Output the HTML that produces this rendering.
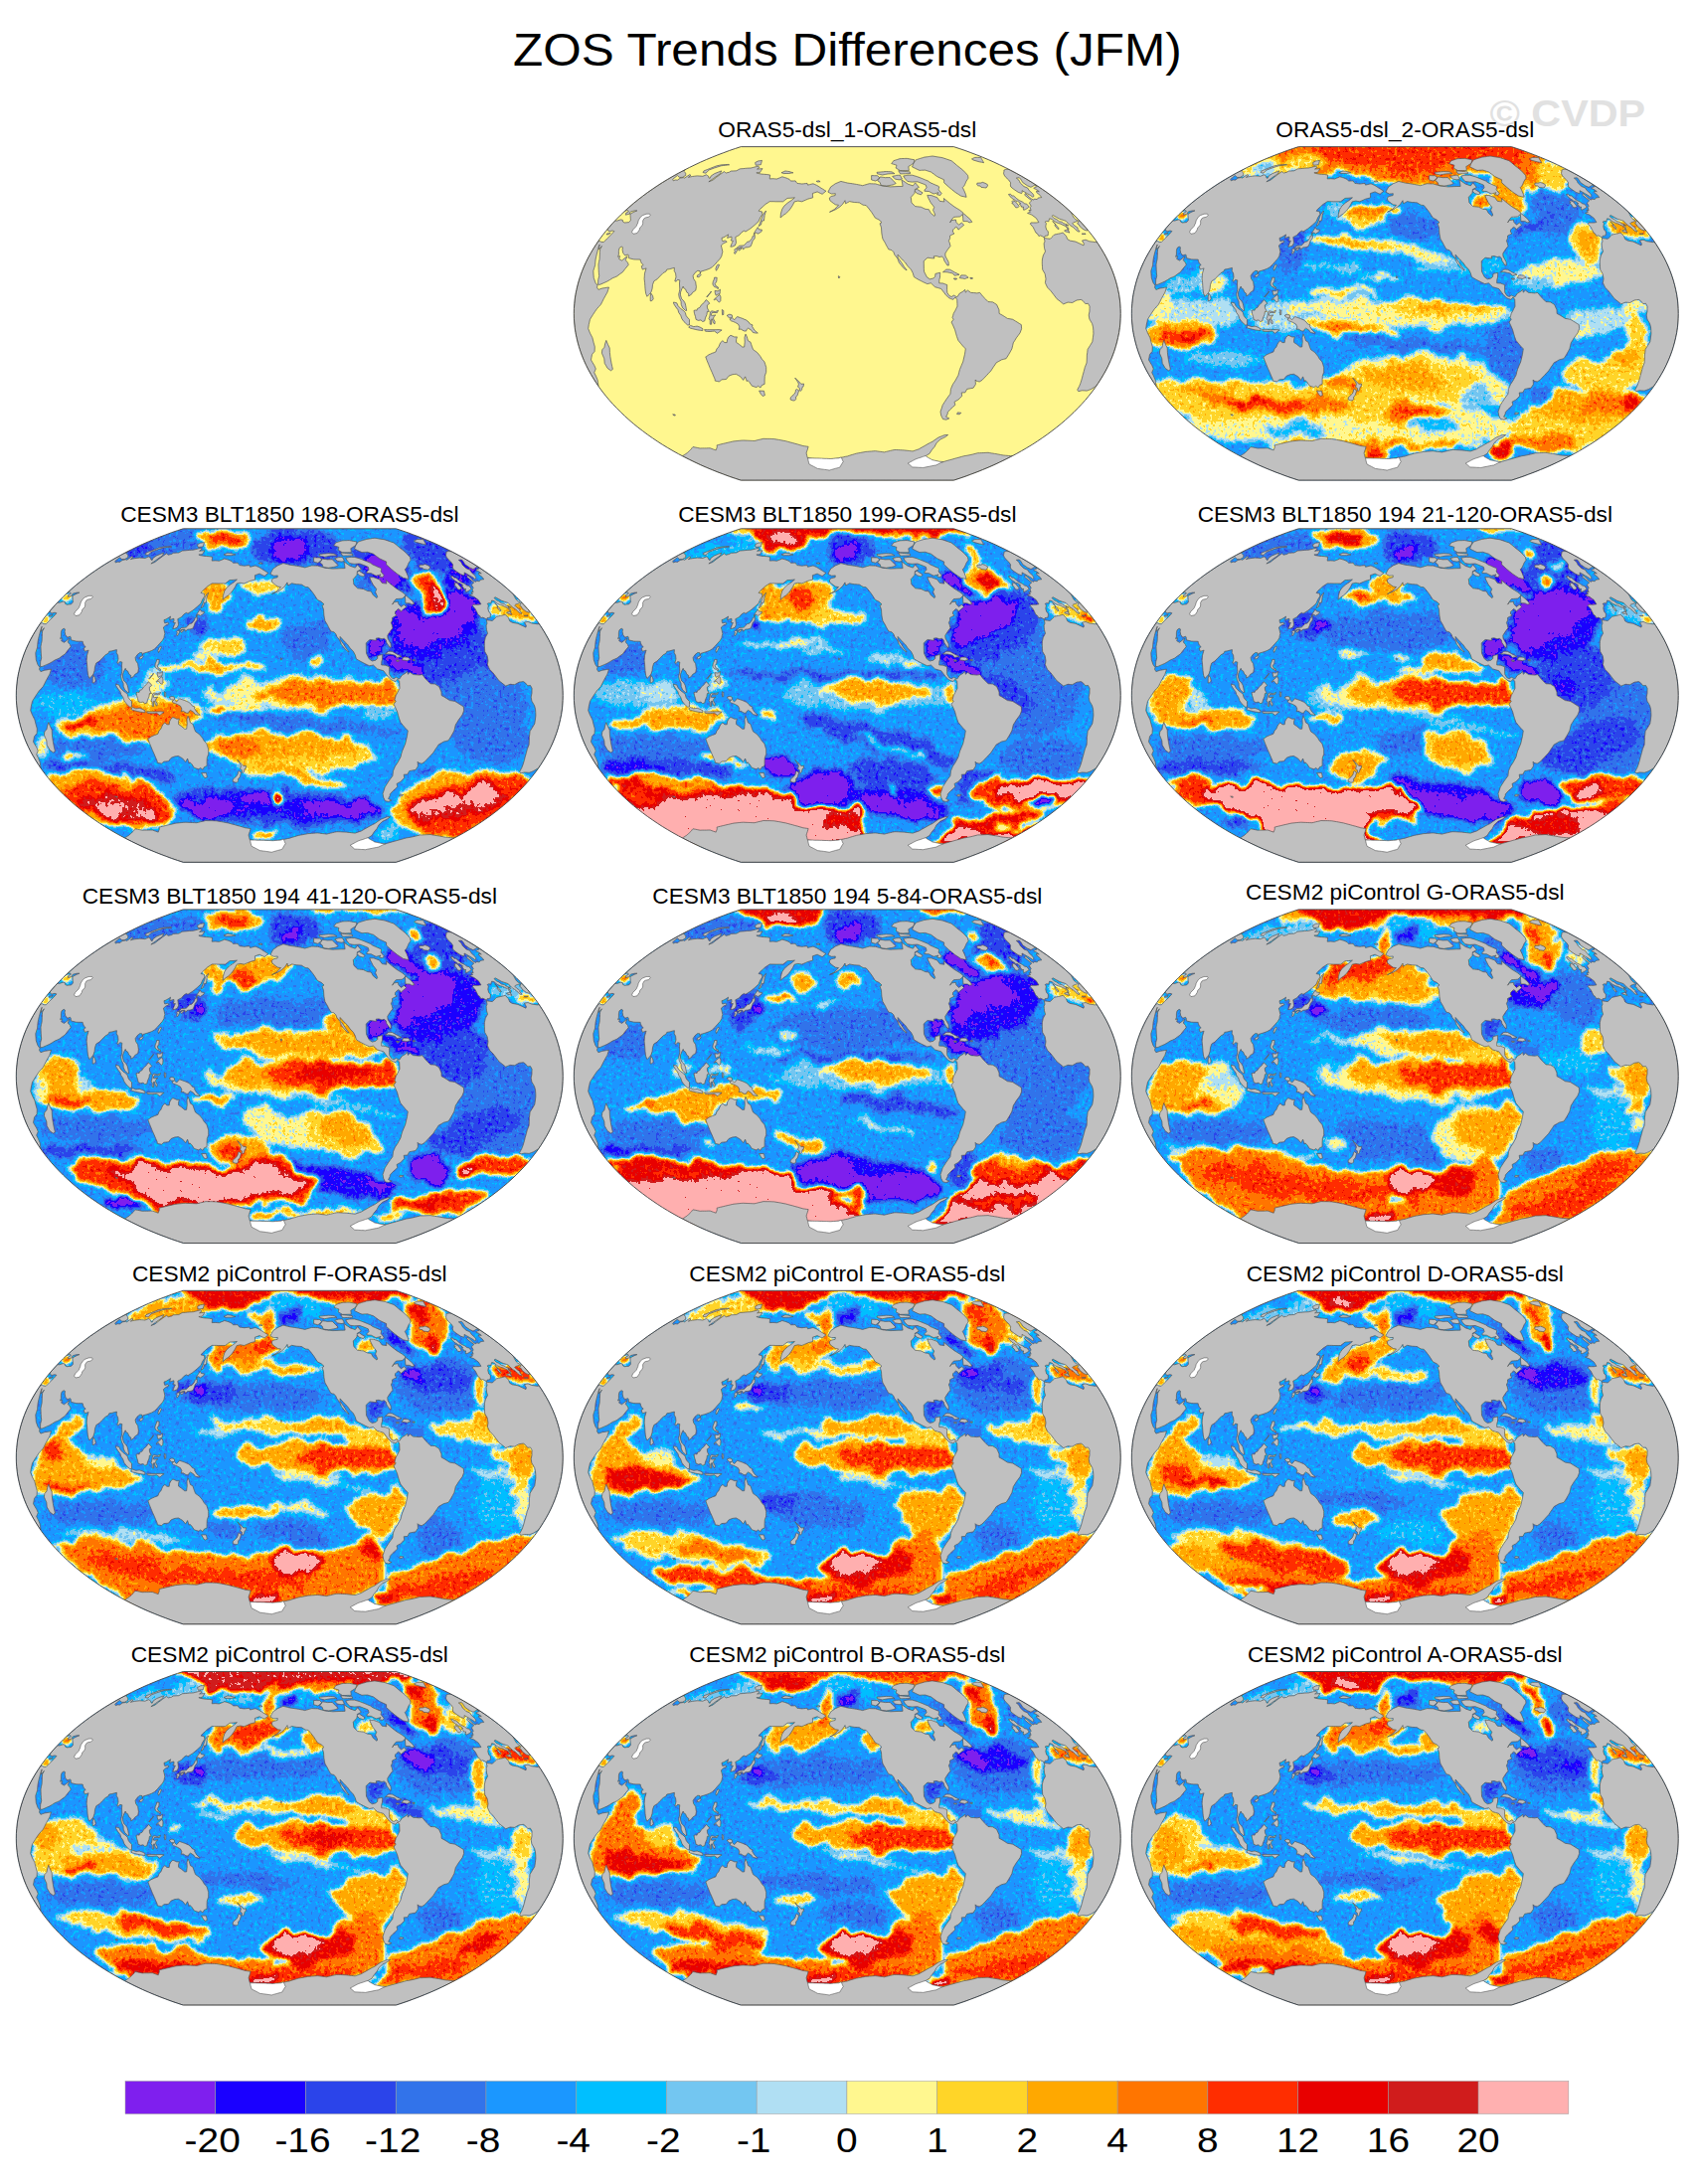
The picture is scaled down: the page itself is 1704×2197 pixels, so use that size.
<!DOCTYPE html>
<html lang="en"><head><meta charset="utf-8"><title>ZOS Trends Differences (JFM)</title>
<style>html,body{margin:0;padding:0;background:#fff}body{width:1704px;height:2197px;overflow:hidden}svg{display:block}text{font-family:'Liberation Sans', Arial, Helvetica, sans-serif;fill:#000}</style></head><body>
<svg width="1704" height="2197" viewBox="0 0 1704 2197">
<defs>
<clipPath id="oc"><path d="M382.0 335.6L387.8 333.7L393.7 331.7L399.5 329.5L405.4 327.3L411.1 325.0L416.9 322.6L422.6 320.1L428.3 317.4L433.9 314.7L439.4 311.9L444.9 309.0L450.3 306.0L455.6 302.9L460.9 299.7L466.0 296.4L471.0 293.0L475.9 289.6L480.7 286.0L485.4 282.4L490.0 278.7L494.4 274.9L498.7 271.0L502.8 267.1L506.8 263.1L510.7 259.0L514.4 254.9L517.9 250.7L521.3 246.4L524.5 242.1L527.5 237.7L530.3 233.3L533.0 228.8L535.5 224.3L537.8 219.7L539.9 215.1L541.8 210.5L543.5 205.8L545.0 201.1L546.3 196.4L547.4 191.7L548.4 186.9L549.1 182.2L549.6 177.4L549.9 172.6L550.0 167.8L549.9 163.0L549.6 158.2L549.1 153.4L548.4 148.7L547.4 143.9L546.3 139.2L545.0 134.5L543.5 129.8L541.8 125.1L539.9 120.5L537.8 115.9L535.5 111.3L533.0 106.8L530.3 102.3L527.5 97.9L524.5 93.5L521.3 89.2L517.9 84.9L514.4 80.7L510.7 76.6L506.8 72.5L502.8 68.5L498.7 64.6L494.4 60.7L490.0 56.9L485.4 53.2L480.7 49.6L475.9 46.0L471.0 42.6L466.0 39.2L460.9 35.9L455.6 32.7L450.3 29.6L444.9 26.6L439.4 23.7L433.9 20.9L428.3 18.2L422.6 15.5L416.9 13.0L411.1 10.6L405.4 8.3L399.5 6.1L393.7 3.9L387.8 1.9L382.0 0.0L168.0 0.0L162.2 1.9L156.3 3.9L150.5 6.1L144.6 8.3L138.9 10.6L133.1 13.0L127.4 15.5L121.7 18.2L116.1 20.9L110.6 23.7L105.1 26.6L99.7 29.6L94.4 32.7L89.1 35.9L84.0 39.2L79.0 42.6L74.1 46.0L69.3 49.6L64.6 53.2L60.0 56.9L55.6 60.7L51.3 64.6L47.2 68.5L43.2 72.5L39.3 76.6L35.6 80.7L32.1 84.9L28.7 89.2L25.5 93.5L22.5 97.9L19.7 102.3L17.0 106.8L14.5 111.3L12.2 115.9L10.1 120.5L8.2 125.1L6.5 129.8L5.0 134.5L3.7 139.2L2.6 143.9L1.6 148.7L0.9 153.4L0.4 158.2L0.1 163.0L0.0 167.8L0.1 172.6L0.4 177.4L0.9 182.2L1.6 186.9L2.6 191.7L3.7 196.4L5.0 201.1L6.5 205.8L8.2 210.5L10.1 215.1L12.2 219.7L14.5 224.3L17.0 228.8L19.7 233.3L22.5 237.7L25.5 242.1L28.7 246.4L32.1 250.7L35.6 254.9L39.3 259.0L43.2 263.1L47.2 267.1L51.3 271.0L55.6 274.9L60.0 278.7L64.6 282.4L69.3 286.0L74.1 289.6L79.0 293.0L84.0 296.4L89.1 299.7L94.4 302.9L99.7 306.0L105.1 309.0L110.6 311.9L116.1 314.7L121.7 317.4L127.4 320.1L133.1 322.6L138.9 325.0L144.6 327.3L150.5 329.5L156.3 331.7L162.2 333.7L168.0 335.6Z"/></clipPath>
<filter id="bl" filterUnits="userSpaceOnUse" x="-12" y="-12" width="574" height="359" color-interpolation-filters="sRGB"><feTurbulence type="fractalNoise" baseFrequency="0.05" numOctaves="3" seed="7" result="n"/><feDisplacementMap in="SourceGraphic" in2="n" scale="20" xChannelSelector="R" yChannelSelector="G" result="d"/><feGaussianBlur in="d" stdDeviation="2.2" result="b"/><feTurbulence type="fractalNoise" baseFrequency="0.28" numOctaves="2" seed="3" result="n2"/><feColorMatrix in="n2" type="matrix" values="1 0 0 0 0 1 0 0 0 0 1 0 0 0 0 0 0 0 0 1" result="n3"/><feComposite in="b" in2="n3" operator="arithmetic" k1="0" k2="1" k3="0.2" k4="-0.1" result="f"/><feComponentTransfer in="f"><feFuncR type="discrete" tableValues="0.498 0.102 0.169 0.196 0.106 0.000 0.451 0.690 1.000 1.000 1.000 1.000 1.000 0.910 0.816 1.000"/><feFuncG type="discrete" tableValues="0.122 0.000 0.267 0.451 0.592 0.749 0.776 0.875 0.969 0.835 0.659 0.459 0.176 0.000 0.110 0.690"/><feFuncB type="discrete" tableValues="0.933 1.000 0.918 0.918 1.000 1.000 0.945 0.953 0.561 0.157 0.000 0.000 0.000 0.000 0.110 0.690"/></feComponentTransfer></filter>
<g id="land"><path d="M102.0 270.4L100.7 270.4L99.4 269.3L101.7 269.4L102.0 270.4ZM30.9 217.8L30.5 213.2L29.3 210.4L28.1 207.6L28.5 204.2L30.7 201.7L31.3 198.3L32.5 194.8L34.1 198.7L35.9 202.5L36.1 207.0L36.5 210.8L37.1 214.5L37.8 218.3L38.4 221.0L39.1 223.8L37.2 225.2L33.8 222.8L32.4 220.3L30.9 217.8ZM141.3 185.5L139.0 185.7L136.8 185.9L134.5 185.8L132.2 185.6L131.3 184.0L134.0 184.1L136.6 184.1L139.7 184.1L142.7 184.1L145.7 184.0L148.8 184.4L145.9 186.4L144.5 187.8L141.3 185.5ZM124.5 184.3L122.5 183.9L120.6 183.4L118.9 183.0L117.2 182.6L115.4 181.5L117.3 179.8L120.4 181.0L122.1 180.8L123.9 180.5L126.8 181.5L129.7 183.1L129.5 185.0L127.0 184.7L124.5 184.3ZM139.3 169.8L140.9 169.6L142.5 169.4L140.6 171.1L140.3 173.3L141.9 176.0L141.6 178.4L140.0 177.0L139.1 173.3L138.0 173.7L138.2 176.2L138.4 178.6L136.9 178.6L136.9 174.7L135.7 173.1L136.6 170.4L136.9 168.3L137.2 166.2L138.7 165.2L140.4 165.6L142.1 166.0L145.2 164.7L144.1 167.0L141.6 166.9L139.0 166.8L137.8 169.4L139.3 169.8ZM113.9 171.4L116.2 173.8L116.2 176.6L116.2 179.4L114.2 179.3L112.4 177.6L110.6 175.9L108.6 173.1L107.4 169.6L105.4 166.8L104.7 164.1L102.5 161.3L100.4 158.0L100.2 156.4L101.8 156.8L103.5 157.2L104.8 160.1L107.8 163.3L109.6 164.4L112.0 166.8L112.8 169.8L113.9 171.4ZM19.5 124.9L19.7 128.5L20.0 132.0L21.7 136.8L23.7 139.6L23.2 141.5L24.6 143.8L26.6 143.1L28.6 142.4L30.8 142.1L33.0 141.7L35.2 141.4L34.4 143.9L33.6 146.5L31.7 149.8L29.9 153.1L28.5 155.9L27.1 158.7L25.0 161.0L23.0 163.2L21.0 166.1L19.1 169.0L16.2 173.6L15.6 176.3L15.0 178.9L14.4 182.9L16.2 187.5L18.6 192.1L19.7 196.6L21.0 201.2L20.8 205.9L19.4 207.5L18.2 209.1L17.7 211.8L17.2 214.4L18.8 217.2L20.5 220.0L22.0 223.4L21.2 225.3L20.4 227.2L22.1 230.5L23.8 234.6L24.2 237.2L24.6 239.8L24.6 240.8L21.7 236.5L19.0 232.1L16.4 227.8L14.0 223.3L11.8 218.9L9.8 214.4L8.0 209.8L6.3 205.3L4.8 200.7L3.6 196.0L2.5 191.4L1.6 186.8L0.9 182.1L0.4 177.4L0.1 172.7L0.0 168.0L0.1 163.4L0.4 158.7L0.9 154.0L1.5 149.3L2.4 144.7L3.5 140.0L4.7 135.4L6.2 130.8L7.8 126.2L9.6 121.7L11.6 117.2L13.8 112.7L16.2 108.3L18.7 103.9L21.4 99.6L24.3 95.3L26.0 94.8L27.5 95.8L30.0 95.9L33.4 92.4L37.6 88.3L40.6 85.0L38.7 84.4L35.3 85.3L34.2 83.4L33.2 83.6L35.8 80.5L38.6 77.4L41.4 74.3L43.3 74.5L47.1 73.3L49.0 73.7L49.2 75.4L50.9 76.4L53.1 76.2L55.3 76.0L57.1 74.0L56.9 71.6L56.8 70.2L56.7 68.8L56.9 67.4L60.8 65.4L63.6 64.3L61.3 64.3L59.4 64.7L57.5 65.2L56.0 66.3L56.6 67.4L54.7 67.9L52.0 68.6L52.5 66.5L55.0 65.4L54.4 64.1L53.0 64.0L50.3 65.5L54.1 62.0L58.0 58.6L62.1 55.2L66.2 51.9L70.4 48.7L74.8 45.5L79.2 42.5L83.7 39.4L83.9 39.4L83.9 39.3L88.4 36.4L93.0 33.6L97.6 30.8L102.3 28.1L107.1 25.5L111.9 23.0L112.1 23.4L110.4 24.1L110.7 24.7L111.1 25.2L111.8 25.9L112.4 26.5L112.4 27.7L112.5 28.8L109.4 30.7L108.0 30.8L106.5 30.9L105.6 30.3L104.8 29.7L104.1 28.9L101.7 30.8L99.4 32.8L99.7 33.5L100.0 34.2L102.0 33.4L103.0 33.5L104.1 33.6L106.9 31.6L110.0 31.0L111.3 31.5L113.9 29.7L116.5 28.0L117.1 28.4L117.7 28.8L115.1 30.8L117.1 30.3L119.1 29.9L121.5 29.6L124.0 29.3L125.9 29.4L127.7 29.5L129.6 29.7L133.2 28.2L134.2 28.9L135.3 29.6L135.4 30.4L135.6 31.2L136.8 31.8L137.8 29.5L141.3 27.1L144.8 25.7L148.4 24.3L147.8 25.6L147.3 27.0L143.8 29.4L140.3 31.9L135.6 35.2L139.5 33.7L143.2 30.8L147.1 27.9L151.1 25.0L152.0 25.7L153.0 26.4L154.7 26.0L156.4 25.6L157.9 24.5L159.8 24.4L161.6 24.3L163.5 24.2L166.9 22.3L168.6 22.1L170.4 22.0L172.1 21.8L174.1 21.6L176.0 21.5L178.0 21.4L180.5 20.8L183.0 20.1L185.5 19.5L186.1 20.2L186.6 20.8L184.3 22.5L186.1 22.3L187.9 22.2L189.7 22.0L188.4 23.9L187.1 25.9L185.4 26.0L183.6 26.2L184.4 26.5L185.3 26.9L186.7 27.1L188.2 27.4L189.7 27.6L191.2 27.7L192.7 27.8L194.2 27.9L195.8 28.2L197.4 28.5L197.1 30.4L196.9 32.3L198.7 32.2L200.5 32.1L202.3 32.3L204.2 32.4L205.9 31.7L207.5 31.1L209.5 30.2L210.9 30.6L212.2 31.0L213.6 31.4L215.2 32.1L216.7 32.7L217.5 33.6L218.2 34.5L219.8 34.4L221.3 34.4L222.8 34.3L223.7 35.6L224.6 36.8L226.2 37.0L227.8 37.2L229.5 37.4L231.2 37.2L233.0 37.0L234.7 36.8L235.2 38.5L237.0 38.1L238.8 37.6L240.7 37.2L242.5 38.0L244.3 38.8L245.8 39.7L247.3 40.7L248.8 41.7L250.4 42.6L251.9 43.6L253.6 44.6L251.7 46.1L249.8 47.7L248.1 46.9L246.4 46.1L244.8 45.3L242.5 46.1L240.1 46.9L240.2 49.1L240.4 51.2L238.7 51.7L237.0 52.1L235.3 52.6L233.3 53.5L231.4 54.3L229.4 55.2L227.5 54.9L225.5 54.5L223.7 54.9L221.8 55.3L220.2 58.6L218.4 61.4L216.4 64.2L213.2 67.2L210.9 68.7L207.8 71.4L208.1 67.6L208.7 65.3L209.4 62.9L211.5 59.6L215.0 56.5L216.9 55.2L218.9 53.9L222.1 51.2L220.3 51.4L218.5 51.6L216.6 51.7L214.7 51.8L212.5 53.5L210.3 55.2L208.5 55.2L206.8 55.2L204.8 55.2L202.9 55.2L201.0 55.1L199.0 55.1L196.9 55.1L194.8 56.5L192.6 57.9L190.0 60.3L187.3 62.7L185.8 64.6L187.5 65.0L189.2 65.3L189.5 68.0L187.3 71.4L185.8 75.1L181.8 78.8L179.6 80.6L177.4 82.4L175.0 83.9L172.7 85.4L171.0 84.6L168.6 86.2L166.2 89.0L164.4 89.9L162.5 90.9L162.8 93.2L163.2 96.6L162.0 99.4L159.3 100.5L157.5 100.6L159.0 96.9L160.1 94.7L157.8 94.3L158.7 92.6L158.6 90.5L156.5 91.1L154.3 91.8L155.3 88.3L153.0 89.8L150.7 91.2L148.7 91.8L149.0 93.8L149.5 95.1L152.2 94.4L153.9 95.7L150.6 97.1L148.1 99.3L148.7 101.7L149.6 105.7L149.0 107.6L148.7 109.6L147.2 112.4L144.1 115.8L142.0 118.3L139.2 121.0L136.6 122.6L133.7 123.7L130.9 124.6L127.8 125.5L127.0 127.4L126.7 125.0L124.5 124.7L121.8 126.8L119.8 129.8L120.3 132.8L122.4 135.9L122.7 138.4L123.1 140.9L122.5 144.5L119.2 146.8L118.2 148.6L115.4 150.3L115.4 147.7L113.6 146.5L112.2 143.2L110.4 142.2L109.9 140.5L108.8 142.5L107.2 146.5L107.2 149.2L108.3 153.0L110.2 154.7L111.8 157.3L112.5 160.1L112.9 162.5L113.4 164.8L112.2 164.8L109.3 162.1L107.9 158.7L107.8 155.7L105.9 151.6L105.4 148.5L106.0 146.0L106.5 143.5L106.3 140.4L106.2 137.4L106.5 134.3L104.3 133.8L102.9 135.6L101.5 135.2L102.7 131.1L102.3 127.4L100.9 124.9L101.1 121.8L99.0 122.3L96.6 123.0L93.5 123.5L92.6 125.5L89.8 127.0L86.4 130.4L83.8 133.2L80.5 135.2L79.2 138.9L78.8 142.7L77.7 146.2L76.2 148.3L74.8 149.5L73.6 150.7L72.4 147.7L72.0 145.3L71.7 142.8L71.5 140.0L71.3 137.1L70.8 132.8L71.0 130.2L71.2 127.5L72.4 123.3L72.8 122.3L70.9 122.9L69.0 123.5L67.9 120.2L69.9 118.9L68.0 117.2L67.1 114.8L66.9 113.5L64.7 113.4L62.5 113.4L60.3 113.3L57.7 112.7L55.1 112.0L54.9 109.3L54.3 108.4L51.5 109.4L50.5 108.2L49.5 107.0L48.8 103.7L49.1 101.1L47.8 100.4L45.7 102.0L45.1 104.9L45.1 108.5L44.3 110.7L46.3 110.0L45.4 112.9L46.8 113.7L48.2 114.5L52.7 110.9L53.6 110.3L52.0 114.1L53.1 115.4L54.2 116.6L54.9 118.8L51.4 123.0L49.1 126.1L45.9 128.3L43.5 130.2L41.3 131.2L39.0 132.1L36.2 133.9L33.3 135.6L29.9 137.1L26.5 138.6L24.2 138.8L24.3 136.3L24.4 133.9L25.4 130.1L25.1 127.2L24.9 124.2L24.8 121.3L24.7 118.4L25.2 115.7L25.8 113.1L26.0 108.4L26.1 105.8L26.3 103.2L28.1 99.9L25.0 103.5L25.0 101.2L25.9 98.4L24.3 103.0L23.1 107.6L22.4 110.5L21.8 113.4L21.5 116.3L21.3 119.2L20.4 122.1L19.5 124.9ZM150.5 168.8L149.3 169.2L149.1 166.2L149.0 163.9L150.5 164.9L150.5 168.8ZM132.9 154.0L134.1 154.8L136.5 157.6L134.0 159.5L134.2 162.3L136.0 165.8L134.1 165.8L133.7 168.8L132.2 172.3L131.5 175.3L129.4 175.9L127.7 174.3L125.1 174.8L122.8 173.8L122.2 170.8L121.2 167.8L120.7 164.8L122.3 164.4L123.8 164.6L124.3 162.8L126.6 161.8L128.2 159.1L130.9 156.9L132.9 154.0ZM144.0 154.5L143.0 153.1L141.0 154.3L141.0 153.7L143.5 151.2L146.6 148.8L147.7 151.2L147.5 155.1L146.2 156.5L145.5 156.1L144.0 154.5ZM79.3 150.0L79.9 153.2L78.5 155.0L76.9 155.2L76.9 151.0L77.5 147.5L79.3 150.0ZM136.9 147.1L138.1 145.4L137.8 146.5L135.8 149.0L133.9 151.4L133.6 150.8L136.9 147.1ZM141.8 144.8L144.8 145.3L147.2 143.6L147.0 145.7L146.8 147.9L144.5 148.6L142.9 149.6L142.0 147.2L141.8 144.8ZM143.4 141.7L141.2 140.9L140.3 139.7L139.6 138.3L139.9 136.0L141.0 133.4L141.4 131.5L143.9 131.7L143.5 135.5L141.9 138.0L143.1 140.4L145.2 141.4L145.0 143.1L143.4 141.7ZM127.8 128.9L125.8 131.2L123.9 130.9L124.2 129.3L127.1 127.8L127.8 128.9ZM146.3 118.9L144.5 122.7L143.2 124.7L142.6 122.7L143.5 120.1L144.9 118.4L146.3 118.9ZM161.3 103.9L162.0 102.9L163.6 102.4L164.3 104.0L162.9 106.9L161.7 107.8L161.2 107.0L162.0 104.7L161.3 103.9ZM32.8 88.4L33.2 87.5L35.0 87.1L36.9 86.7L35.1 88.1L32.8 88.4ZM141.2 21.4L135.9 23.4L132.7 26.6L131.3 26.3L129.8 25.9L130.7 24.3L134.0 23.0L137.3 21.7L143.4 19.3L146.1 18.7L148.8 18.2L150.6 18.1L152.3 18.0L154.0 17.9L155.7 17.8L156.3 18.2L154.3 18.5L152.2 18.7L150.1 18.9L148.1 19.2L144.6 20.3L141.2 21.4ZM188.1 18.0L186.4 18.3L184.7 18.5L183.0 18.7L182.7 17.8L182.5 16.9L182.3 16.0L185.2 14.4L187.2 14.1L189.2 13.8L188.8 15.2L188.4 16.6L188.1 18.0ZM144.0 302.2L143.8 300.3L145.4 299.9L147.0 299.5L148.7 299.1L150.4 298.7L152.0 298.3L153.7 297.9L155.5 297.5L157.2 297.1L158.9 296.7L160.7 296.3L162.6 296.1L164.6 295.9L166.5 295.7L168.5 295.5L170.5 295.4L172.7 295.5L174.9 295.6L177.1 295.7L179.3 295.8L181.5 295.9L183.3 295.5L185.1 295.0L186.9 294.6L188.7 294.2L190.6 293.7L192.7 293.8L194.9 293.8L197.0 293.8L199.2 293.9L201.4 294.0L203.7 294.4L206.1 294.8L208.4 295.2L210.8 295.7L213.1 296.1L215.5 296.8L217.8 297.4L220.2 298.0L222.5 298.7L224.9 299.3L226.8 299.9L228.7 300.4L230.6 301.0L232.3 301.2L234.1 301.5L235.8 301.7L235.0 304.6L234.3 306.5L233.8 308.3L234.4 310.7L235.0 313.0L236.9 313.2L238.7 313.5L240.6 313.7L242.3 313.7L244.0 313.8L245.8 313.8L247.5 313.8L249.2 313.9L251.0 313.9L252.7 314.0L254.5 314.1L256.2 314.2L257.9 314.3L259.6 314.1L261.3 313.9L263.0 313.7L264.7 313.5L266.4 313.3L268.1 312.9L269.8 312.5L271.5 312.1L273.2 311.7L275.0 311.4L276.8 310.8L278.6 310.2L280.4 309.7L282.3 309.1L284.1 308.6L286.0 308.2L287.9 307.9L289.8 307.5L291.7 307.2L293.6 306.8L295.5 306.7L297.4 306.5L299.3 306.4L301.2 306.2L303.1 306.1L304.9 306.3L306.7 306.6L308.5 306.8L310.3 307.0L312.1 307.3L314.1 306.8L316.2 306.3L318.3 305.8L320.4 305.3L322.6 304.9L324.4 304.9L326.3 305.0L328.2 305.1L330.0 305.2L331.9 305.3L333.7 305.5L335.5 305.7L337.3 305.9L339.0 306.1L340.8 306.3L342.9 305.6L344.9 304.9L347.0 304.2L349.9 302.5L352.8 300.9L355.7 299.2L358.1 297.9L360.6 296.7L363.7 294.5L366.8 292.4L369.9 291.2L372.9 290.0L374.6 289.9L376.3 289.9L373.7 291.9L371.1 293.2L368.6 294.4L364.8 297.9L362.9 301.6L359.9 305.2L357.7 308.7L353.6 311.2L354.5 312.2L355.6 312.9L356.8 313.5L357.9 314.1L359.0 314.8L360.1 315.4L361.5 315.7L362.9 316.0L364.3 316.3L365.6 316.6L367.0 316.9L368.3 317.0L369.6 317.1L370.9 317.2L373.2 316.5L375.6 315.8L378.0 315.1L380.4 314.5L382.8 313.8L385.2 313.1L387.6 312.5L390.0 311.8L392.5 311.1L394.6 310.8L396.7 310.4L398.8 310.0L401.3 309.4L403.7 308.8L406.3 308.1L408.3 308.1L410.4 308.0L412.5 307.9L414.6 307.8L416.7 307.7L418.3 308.0L419.9 308.3L421.5 308.5L423.1 308.8L424.6 309.0L426.2 309.3L427.7 309.6L429.2 309.9L430.7 310.2L432.2 310.4L434.0 310.6L435.7 310.7L437.4 310.9L439.1 311.0L440.8 311.2L435.7 313.8L430.5 316.4L425.2 318.9L419.9 321.3L414.6 323.6L409.2 325.8L403.8 327.9L398.3 330.0L392.9 331.9L387.4 333.8L382.0 335.6L380.8 335.6L379.6 335.6L378.4 335.6L377.2 335.6L376.0 335.6L374.8 335.6L373.7 335.6L372.5 335.6L371.3 335.6L370.1 335.6L368.9 335.6L367.7 335.6L366.5 335.6L365.3 335.6L364.1 335.6L363.0 335.6L361.8 335.6L360.6 335.6L359.4 335.6L358.2 335.6L357.0 335.6L355.8 335.6L354.6 335.6L353.4 335.6L352.3 335.6L351.1 335.6L349.9 335.6L348.7 335.6L347.5 335.6L346.3 335.6L345.1 335.6L343.9 335.6L342.7 335.6L341.6 335.6L340.4 335.6L339.2 335.6L338.0 335.6L336.8 335.6L335.6 335.6L334.4 335.6L333.2 335.6L332.1 335.6L330.9 335.6L329.7 335.6L328.5 335.6L327.3 335.6L326.1 335.6L324.9 335.6L323.7 335.6L322.5 335.6L321.4 335.6L320.2 335.6L319.0 335.6L317.8 335.6L316.6 335.6L315.4 335.6L314.2 335.6L313.0 335.6L311.8 335.6L310.7 335.6L309.5 335.6L308.3 335.6L307.1 335.6L305.9 335.6L304.7 335.6L303.5 335.6L302.3 335.6L301.1 335.6L300.0 335.6L298.8 335.6L297.6 335.6L296.4 335.6L295.2 335.6L294.0 335.6L292.8 335.6L291.6 335.6L290.5 335.6L289.3 335.6L288.1 335.6L286.9 335.6L285.7 335.6L284.5 335.6L283.3 335.6L282.1 335.6L280.9 335.6L279.8 335.6L278.6 335.6L277.4 335.6L276.2 335.6L275.0 335.6L273.8 335.6L272.6 335.6L271.4 335.6L270.2 335.6L269.1 335.6L267.9 335.6L266.7 335.6L265.5 335.6L264.3 335.6L263.1 335.6L261.9 335.6L260.7 335.6L259.5 335.6L258.4 335.6L257.2 335.6L256.0 335.6L254.8 335.6L253.6 335.6L252.4 335.6L251.2 335.6L250.0 335.6L248.9 335.6L247.7 335.6L246.5 335.6L245.3 335.6L244.1 335.6L242.9 335.6L241.7 335.6L240.5 335.6L239.3 335.6L238.2 335.6L237.0 335.6L235.8 335.6L234.6 335.6L233.4 335.6L232.2 335.6L231.0 335.6L229.8 335.6L228.6 335.6L227.5 335.6L226.3 335.6L225.1 335.6L223.9 335.6L222.7 335.6L221.5 335.6L220.3 335.6L219.1 335.6L217.9 335.6L216.8 335.6L215.6 335.6L214.4 335.6L213.2 335.6L212.0 335.6L210.8 335.6L209.6 335.6L208.4 335.6L207.3 335.6L206.1 335.6L204.9 335.6L203.7 335.6L202.5 335.6L201.3 335.6L200.1 335.6L198.9 335.6L197.7 335.6L196.6 335.6L195.4 335.6L194.2 335.6L193.0 335.6L191.8 335.6L190.6 335.6L189.4 335.6L188.2 335.6L187.0 335.6L185.9 335.6L184.7 335.6L183.5 335.6L182.3 335.6L181.1 335.6L179.9 335.6L178.7 335.6L177.5 335.6L176.3 335.6L175.2 335.6L174.0 335.6L172.8 335.6L171.6 335.6L170.4 335.6L169.2 335.6L168.0 335.6L162.6 333.8L157.1 331.9L151.7 330.0L146.2 327.9L140.8 325.8L135.4 323.6L130.1 321.3L124.8 318.9L119.5 316.4L114.3 313.8L109.2 311.2L109.9 310.7L110.7 310.2L111.4 309.7L112.2 309.2L113.0 308.7L113.8 308.2L114.6 307.4L115.4 306.6L116.2 305.9L117.0 305.1L117.9 304.3L118.5 303.5L119.0 302.7L119.7 302.0L122.1 302.4L124.5 302.9L126.9 303.4L128.9 303.3L131.0 303.3L133.0 303.3L135.0 303.2L137.0 303.2L140.0 304.3L142.9 305.3L143.2 304.3L143.6 303.3L144.0 302.2ZM220.4 255.3L217.8 254.4L218.0 252.3L219.6 250.6L221.9 248.6L222.9 246.7L223.2 244.5L224.1 243.9L226.3 245.2L225.3 248.6L224.9 250.1L223.4 251.4L223.3 254.1L222.0 255.4L220.4 255.3ZM192.1 250.0L189.9 250.9L188.1 248.9L186.3 245.5L188.7 245.6L191.2 245.7L191.6 247.8L192.1 250.0ZM229.3 244.3L228.0 245.9L227.0 245.1L227.1 242.9L225.2 241.6L226.1 239.1L225.6 237.3L223.8 234.5L222.4 232.5L225.3 235.4L226.9 236.7L228.5 238.7L231.3 238.5L230.8 241.3L229.7 241.9L229.3 244.3ZM147.4 197.1L149.6 195.1L151.6 197.0L153.9 197.0L154.3 194.0L155.5 191.5L157.6 189.7L159.6 190.5L161.5 191.4L164.1 191.3L163.3 193.9L163.3 196.8L166.1 198.7L169.5 201.5L171.4 201.4L171.6 199.0L171.9 196.6L171.8 194.2L171.7 191.8L172.7 188.5L173.9 190.8L174.5 193.0L175.2 195.2L177.6 196.5L178.4 198.9L179.2 201.3L180.3 204.1L182.3 205.5L184.3 206.9L187.4 210.7L189.0 213.5L191.6 216.3L192.5 219.1L193.4 222.0L193.4 224.3L193.4 226.7L192.0 230.6L191.8 234.4L191.8 236.6L191.8 238.8L189.2 239.8L187.6 242.4L185.3 240.7L183.6 242.0L181.3 241.3L179.1 240.6L176.6 236.9L174.7 235.0L174.0 236.0L173.1 233.6L172.3 231.3L170.4 234.8L167.3 231.1L165.2 229.9L163.1 228.7L161.3 228.9L159.6 229.1L157.7 229.8L155.8 230.6L154.5 232.2L153.2 233.9L150.8 234.1L148.4 234.3L146.3 236.4L144.2 235.9L142.0 235.5L141.8 233.7L140.3 230.3L138.9 226.9L137.1 223.0L135.5 219.1L133.9 215.2L132.5 211.3L133.4 210.9L135.7 209.2L137.4 208.5L139.1 207.7L140.9 207.1L142.6 206.4L143.8 203.1L145.5 201.6L146.4 199.4L147.4 197.1ZM169.6 172.8L171.6 173.7L173.5 174.5L175.8 176.4L177.1 178.3L179.7 179.3L179.3 180.8L181.5 184.4L183.6 186.3L185.0 187.4L183.2 187.5L180.1 186.9L178.5 184.6L175.3 182.6L173.9 183.7L173.2 185.5L170.9 185.3L167.8 183.4L165.8 183.8L166.6 181.3L165.2 178.4L162.1 176.7L160.2 175.9L158.2 175.2L157.1 174.4L157.0 173.2L158.6 172.3L156.2 172.1L154.3 170.5L154.2 169.5L156.6 168.6L159.0 169.3L159.4 172.3L161.3 174.2L164.3 170.9L167.3 172.0L169.6 172.8ZM266.1 131.4L266.1 130.1L267.5 130.9L266.6 132.4L266.1 131.4ZM375.7 126.2L373.5 126.1L371.2 126.1L372.9 124.8L374.5 123.5L376.4 123.5L378.2 123.6L380.7 125.0L383.1 126.4L385.4 127.5L387.7 128.7L385.3 129.2L382.9 129.6L381.1 127.4L378.4 126.8L375.7 126.2ZM168.5 101.7L168.6 102.6L167.5 103.6L165.9 104.5L165.3 103.5L165.7 102.5L168.5 101.7ZM179.9 89.8L182.0 88.8L181.9 92.2L179.9 94.6L178.8 97.9L177.9 100.1L176.5 100.7L174.8 101.2L172.4 101.3L172.0 101.8L170.2 103.3L169.6 101.3L167.4 101.4L165.5 102.1L163.7 102.2L163.6 102.0L166.5 99.6L168.7 99.5L170.9 99.3L173.3 97.0L174.4 95.7L176.6 95.3L179.2 92.1L179.9 89.8ZM297.2 37.1L299.2 37.2L301.3 37.3L303.3 37.3L305.2 37.9L307.2 38.5L309.1 39.0L311.1 39.6L312.9 39.7L314.8 39.9L316.7 40.1L318.6 40.3L320.6 40.2L322.7 40.1L324.7 40.0L326.8 39.9L328.8 39.9L330.8 39.8L330.3 36.5L329.6 33.2L332.8 35.4L336.0 37.6L338.5 38.4L341.0 39.3L342.2 37.8L343.3 36.3L345.2 38.5L347.1 40.8L345.7 41.5L344.4 42.2L343.0 42.9L342.9 44.0L343.9 43.2L344.8 42.4L347.8 44.4L350.8 46.3L349.9 47.3L349.1 48.3L347.1 47.6L345.1 47.0L342.9 44.6L342.7 46.7L341.5 48.0L340.3 49.4L339.0 50.7L339.3 53.5L339.6 56.3L343.4 60.0L345.3 60.2L347.2 60.4L349.1 60.6L351.3 61.7L353.5 62.7L355.3 62.9L357.0 63.1L359.0 66.8L362.7 69.8L363.4 68.5L362.4 66.1L361.3 63.8L362.4 60.8L360.7 58.5L358.9 56.3L357.7 53.9L356.5 51.6L355.5 48.8L357.5 48.9L359.5 48.9L362.4 50.0L365.3 51.0L368.0 54.7L370.2 55.0L372.5 55.3L372.1 51.9L375.1 54.4L378.1 56.9L382.7 60.4L385.5 62.1L388.4 63.9L391.6 66.5L390.9 68.2L389.6 69.3L388.3 70.3L386.2 70.5L384.2 70.6L382.1 70.8L380.5 72.6L379.4 74.4L378.3 76.3L379.9 74.0L382.0 73.7L384.1 73.4L384.6 75.9L387.2 78.6L388.6 77.5L390.1 76.5L392.4 78.7L390.8 80.0L389.1 81.4L387.9 82.5L386.7 83.5L385.9 81.6L384.2 80.8L382.7 82.1L381.3 83.5L381.1 85.8L382.7 87.3L380.4 88.4L378.2 89.6L378.3 92.1L377.1 94.7L377.9 96.6L378.7 100.0L376.6 102.6L375.0 105.0L373.5 107.4L373.7 110.3L375.3 113.1L376.8 115.9L377.0 119.4L375.7 119.4L374.2 117.1L372.6 114.7L371.9 111.9L369.9 110.4L367.8 111.0L364.7 110.0L361.9 110.3L362.6 112.3L360.1 112.2L357.9 111.9L355.7 111.6L353.8 113.3L351.9 115.1L352.0 117.7L352.0 120.4L352.1 123.0L352.2 125.5L353.6 128.3L355.1 131.2L358.0 133.2L359.8 132.8L361.6 132.4L363.4 130.6L363.6 127.8L366.0 127.2L368.4 126.7L368.3 129.1L368.2 131.5L367.5 133.8L367.4 137.2L369.3 137.3L371.2 137.4L373.3 138.2L375.4 139.0L375.3 141.4L375.3 143.8L375.5 146.7L377.5 149.9L379.9 150.9L382.1 149.5L383.8 150.4L385.5 151.2L388.0 147.5L389.8 146.5L391.6 145.5L393.4 143.7L394.0 146.5L396.1 144.5L399.3 146.8L402.4 147.0L405.4 147.3L408.4 146.8L410.1 148.9L411.8 151.1L414.3 153.5L416.7 156.0L419.0 156.1L421.3 156.3L423.3 157.6L425.3 158.8L426.5 161.5L427.7 164.2L427.8 167.8L430.8 169.4L433.5 171.1L436.1 172.8L438.8 173.2L441.4 173.7L444.0 175.3L446.6 176.9L448.3 178.0L450.0 179.0L450.3 183.1L448.8 187.2L447.0 189.7L445.1 192.2L443.6 194.7L442.0 197.2L441.3 200.2L440.6 203.2L439.0 206.2L437.3 209.1L434.8 213.1L432.4 213.7L430.1 214.3L427.5 215.8L424.9 217.2L423.5 219.4L422.0 221.5L419.5 225.4L417.3 227.7L415.1 230.1L412.8 232.5L410.6 234.8L407.9 236.4L406.3 236.0L404.7 235.5L403.8 234.4L404.0 236.7L404.1 239.0L401.8 242.6L399.6 243.0L397.5 243.4L395.4 243.8L393.6 247.2L391.8 247.3L389.9 247.4L390.4 250.7L388.5 252.7L386.5 254.6L384.6 255.6L382.7 256.7L383.6 259.7L381.1 261.9L378.6 264.2L376.0 267.1L375.9 268.7L374.3 271.7L375.9 272.5L377.5 273.3L374.5 274.6L372.9 274.3L371.2 274.0L370.3 272.2L369.4 270.4L368.7 266.5L369.9 263.2L370.9 259.9L372.7 257.1L374.5 254.3L376.5 251.5L378.6 248.7L378.9 246.3L379.1 243.9L380.1 241.5L381.1 239.1L383.6 235.4L385.2 232.5L386.7 229.7L387.4 226.8L388.2 223.9L389.8 220.1L391.4 216.3L392.3 212.4L393.2 208.6L393.6 205.9L394.0 203.3L392.6 201.8L391.2 200.4L388.9 197.6L386.6 194.8L385.2 191.0L384.2 187.6L383.3 184.2L381.6 180.3L379.8 176.5L381.9 173.6L380.7 172.0L381.3 169.9L381.9 167.8L383.5 164.9L384.6 162.7L385.7 160.5L385.6 157.9L385.5 155.3L385.4 153.7L383.7 151.4L381.6 153.7L379.2 153.0L376.9 151.9L373.7 148.6L372.3 146.7L369.4 142.9L366.3 142.0L363.2 141.1L361.2 139.2L359.1 137.2L357.3 137.6L355.4 138.0L353.5 137.1L351.5 136.2L349.2 135.0L346.8 133.8L344.4 132.4L342.1 131.0L341.0 127.2L339.1 123.5L335.8 120.1L333.2 116.4L331.1 114.4L329.1 112.3L325.8 108.6L325.8 111.5L327.5 113.8L329.2 116.1L330.7 118.4L332.2 120.8L334.8 124.1L333.6 123.9L330.5 120.8L328.8 118.7L327.1 116.7L326.3 114.5L325.5 112.4L322.6 108.7L321.5 105.9L319.6 104.0L318.0 103.6L316.5 103.2L315.3 101.0L314.1 98.9L313.2 97.0L311.9 94.8L310.6 92.6L310.1 90.0L309.6 87.3L309.4 84.4L309.2 81.4L308.5 79.3L307.7 77.3L309.7 76.1L306.8 73.4L304.9 72.5L303.1 71.6L301.3 68.8L299.5 66.0L296.7 62.3L293.9 59.0L292.4 58.8L290.9 58.6L289.0 57.5L287.2 56.3L285.4 56.1L283.7 56.0L282.0 55.9L279.6 55.5L277.3 55.0L275.3 56.1L273.2 57.2L272.7 54.1L270.3 57.8L268.8 59.2L267.3 60.6L265.1 62.0L262.9 63.3L261.0 64.1L259.1 64.9L257.2 65.7L259.8 64.3L262.3 62.8L264.3 60.7L266.2 58.7L264.7 58.5L263.2 58.3L261.0 56.8L259.2 55.4L257.5 54.0L257.0 51.5L258.8 49.9L260.8 49.4L262.8 49.0L263.0 47.1L261.1 47.3L259.1 47.4L257.3 46.5L255.6 45.5L257.0 42.9L258.4 40.3L260.7 38.8L262.9 37.2L264.8 36.4L266.7 35.6L268.6 34.8L270.2 35.2L271.8 35.6L273.4 36.0L275.0 36.4L276.8 36.7L278.6 36.9L280.4 37.2L282.3 37.5L284.1 37.8L286.2 38.2L288.3 38.6L290.4 39.1L292.1 38.6L293.8 38.1L295.5 37.6L297.2 37.1ZM183.4 86.5L181.5 87.0L181.9 88.0L180.8 88.3L182.2 85.1L183.6 83.1L185.0 81.0L186.1 83.2L187.6 83.4L189.1 83.5L188.8 85.2L187.0 86.4L185.1 87.6L183.4 86.5ZM191.2 74.4L189.3 74.4L188.7 76.4L188.2 78.5L185.9 79.9L187.0 77.1L188.4 73.3L189.2 71.0L190.0 68.6L191.8 65.9L193.3 64.4L192.6 66.6L191.9 68.7L191.5 71.6L191.2 74.4ZM323.9 36.9L322.4 37.6L320.9 38.3L319.2 38.6L317.5 38.9L315.8 39.2L314.1 39.5L312.3 39.2L310.5 39.0L308.8 38.7L307.9 35.9L305.4 34.1L306.5 32.7L307.5 31.3L308.1 30.3L309.8 30.6L311.5 30.8L313.1 31.1L314.7 31.0L316.3 31.0L317.9 30.9L320.9 33.9L323.9 36.9ZM245.2 35.4L243.9 34.7L245.2 34.4L246.5 34.2L247.8 35.1L246.5 35.3L245.2 35.4ZM324.4 28.8L326.3 28.7L328.1 28.6L330.1 32.3L328.9 32.8L327.7 33.3L325.6 33.0L323.4 32.6L320.3 29.9L321.7 29.5L323.1 29.2L324.4 28.8ZM305.3 29.1L307.5 31.3L306.2 32.3L304.9 33.4L303.6 34.5L301.4 33.9L299.3 33.3L299.3 31.2L299.3 29.0L300.8 29.0L302.3 29.1L303.8 29.1L305.3 29.1ZM212.6 24.4L214.0 24.6L215.4 24.8L216.7 25.0L218.0 25.4L219.3 25.8L220.6 26.2L218.5 26.5L216.4 26.9L214.6 26.9L212.7 26.9L210.8 27.0L209.8 26.5L208.7 26.1L210.7 25.3L212.6 24.4ZM304.7 25.7L306.3 25.6L307.9 25.5L309.5 25.3L311.1 25.2L312.7 25.0L314.3 24.9L316.1 25.0L318.0 25.1L319.8 25.3L322.6 27.0L321.0 27.1L319.4 27.1L317.8 27.2L316.2 27.3L314.8 27.5L313.3 27.8L311.8 28.1L310.2 28.4L308.5 28.0L306.9 27.6L305.2 27.2L304.7 25.7ZM328.3 27.3L326.4 24.1L328.3 24.3L330.2 24.5L332.1 24.7L334.1 24.9L336.1 25.1L338.0 25.3L338.3 27.0L336.6 27.1L335.0 27.1L333.3 27.2L331.6 27.2L330.0 27.3L328.3 27.3ZM385.3 269.0L386.0 267.3L387.7 267.5L389.5 267.7L388.0 269.2L386.7 269.1L385.3 269.0ZM504.6 95.5L508.7 97.4L512.7 99.3L513.1 97.6L511.2 94.4L512.9 94.0L514.7 93.6L518.5 95.2L521.7 95.6L524.9 96.1L525.7 95.3L528.6 99.6L531.3 103.9L533.8 108.3L536.2 112.7L538.4 117.2L540.4 121.7L542.2 126.2L543.8 130.8L545.3 135.4L546.5 140.0L547.6 144.7L548.5 149.3L549.1 154.0L549.6 158.7L549.9 163.4L550.0 168.0L549.9 172.7L549.6 177.4L549.1 182.1L548.4 186.8L547.5 191.4L546.4 196.0L545.2 200.7L543.7 205.3L542.0 209.8L540.2 214.4L538.2 218.9L536.0 223.3L533.6 227.8L531.0 232.1L528.3 236.5L525.4 240.8L520.4 243.8L518.2 244.7L515.9 245.5L513.5 245.3L511.0 245.2L507.5 246.1L506.4 244.5L508.4 240.8L509.5 238.1L510.4 235.3L511.2 232.5L511.9 229.7L513.0 225.8L514.0 221.9L515.8 217.4L516.0 213.5L516.1 209.5L516.5 206.7L516.8 203.8L519.2 200.0L521.5 196.2L522.1 192.2L522.6 188.2L522.5 184.8L522.2 181.4L521.3 178.0L518.6 173.4L517.9 169.4L518.7 165.5L518.7 163.1L518.8 160.6L517.2 157.7L514.5 158.0L511.9 154.9L510.0 153.8L507.9 154.1L505.8 154.4L503.6 155.6L501.4 156.9L499.1 156.7L496.8 156.5L494.6 157.4L492.4 158.3L489.6 156.0L487.7 154.5L485.8 153.1L482.8 149.1L479.7 145.1L476.3 141.6L475.2 139.3L474.1 136.9L474.7 133.0L474.3 130.4L473.8 127.8L471.4 123.7L471.2 120.8L471.0 118.0L471.0 115.8L471.1 113.5L472.0 109.4L473.1 107.4L474.2 105.4L473.2 101.8L473.0 99.6L472.8 97.3L473.7 95.3L473.0 91.9L476.0 92.3L479.0 92.7L480.4 91.3L481.8 89.9L483.2 88.5L485.2 88.0L487.2 87.6L489.2 87.2L490.5 86.8L491.8 86.4L495.2 89.8L496.4 93.0L499.0 94.5L501.8 95.0L504.6 95.5ZM382.7 133.5L382.1 132.4L385.1 132.5L384.9 133.5L382.7 133.5ZM398.8 132.7L398.6 131.8L401.0 131.9L400.9 132.9L398.8 132.7ZM389.5 129.3L391.8 129.3L394.0 129.4L396.8 131.6L394.9 132.2L393.1 132.9L391.5 132.5L389.7 132.3L387.9 132.0L389.5 129.3ZM511.4 88.0L510.8 87.4L512.8 87.4L514.7 87.4L514.7 87.9L513.1 87.9L511.4 88.0ZM493.9 85.1L493.3 84.3L495.0 83.8L496.7 83.3L498.6 86.5L496.3 85.8L493.9 85.1ZM516.8 83.6L516.2 84.5L512.9 83.4L509.1 80.5L507.9 78.3L506.3 77.4L507.1 76.3L507.6 74.7L508.6 74.3L511.4 77.4L514.2 80.5L516.8 83.6ZM483.5 79.0L484.6 78.4L486.0 79.8L487.9 82.6L486.8 83.0L483.5 79.0ZM481.6 74.8L484.7 78.4L484.6 78.4L482.1 75.8L481.6 74.8ZM459.2 65.7L457.6 63.8L459.8 63.9L458.8 61.0L459.9 59.7L458.1 56.5L458.8 55.8L459.5 55.1L460.4 54.1L456.7 51.3L453.4 48.6L453.8 47.7L454.1 46.9L457.6 50.0L460.0 52.4L462.5 53.5L463.1 52.5L465.9 53.0L466.4 52.3L466.8 51.5L467.9 51.3L469.0 51.1L470.4 51.0L468.9 48.8L465.5 46.1L465.2 44.6L468.0 45.1L465.2 43.0L462.5 41.8L463.0 41.3L463.6 40.7L464.7 40.4L465.7 40.2L466.3 39.4L470.8 42.5L475.2 45.5L479.6 48.7L483.8 51.9L487.9 55.2L492.0 58.6L495.9 62.0L499.7 65.5L500.1 66.2L501.4 68.8L502.9 71.4L504.6 73.0L507.1 74.3L506.0 75.1L504.4 75.6L502.3 76.3L501.4 77.2L503.4 79.2L506.9 81.6L506.4 82.4L508.8 85.3L507.8 85.5L506.5 85.0L504.2 83.0L502.5 81.2L499.6 79.4L495.7 75.8L495.0 74.8L492.9 74.0L490.6 73.3L488.3 72.5L485.3 70.8L481.8 68.9L480.8 69.7L482.9 71.9L485.5 73.0L488.1 75.1L491.1 75.7L492.0 76.7L494.5 77.8L497.1 78.9L497.4 79.5L494.7 78.4L495.5 80.1L497.3 81.4L497.6 82.7L497.4 83.9L496.0 81.6L493.9 79.6L491.5 78.6L489.6 77.6L487.1 76.9L484.4 75.7L482.8 74.6L480.9 72.9L478.4 72.2L477.9 73.6L477.6 75.2L475.4 74.9L473.9 75.6L475.1 77.1L474.8 78.7L474.5 80.3L475.4 83.7L477.0 85.1L477.1 87.0L476.8 89.3L475.3 89.6L473.8 89.8L473.1 91.4L471.5 90.3L469.3 89.3L467.6 89.9L466.1 87.3L464.7 86.6L463.3 83.7L461.9 80.9L459.0 77.6L459.7 76.4L462.3 76.4L465.0 76.4L466.3 76.2L467.6 76.0L466.3 73.9L465.0 71.8L460.5 68.5L458.4 67.7L456.2 66.8L457.7 66.2L459.2 65.7ZM391.6 75.0L391.4 71.8L391.1 68.5L392.4 67.5L395.5 70.2L398.6 72.9L400.5 75.7L399.2 76.0L397.8 76.3L395.9 75.1L393.7 75.0L391.6 75.0ZM444.0 55.1L445.9 57.4L447.9 59.9L447.1 60.5L446.4 61.2L444.5 61.2L443.7 60.3L442.7 58.5L440.4 56.7L441.8 56.3L440.7 55.0L441.5 54.2L444.0 55.1ZM448.5 56.3L446.1 54.6L444.6 54.8L443.5 53.5L441.8 52.7L438.6 50.0L437.2 47.9L439.2 47.6L440.5 49.3L442.4 49.4L445.4 52.1L447.8 53.9L451.2 55.5L453.5 57.3L455.5 57.6L457.9 60.5L457.1 61.1L456.3 61.8L455.3 62.4L454.3 63.0L452.4 63.7L451.8 61.6L452.7 60.8L449.8 60.4L450.0 59.3L447.9 57.5L449.5 57.3L448.5 56.3ZM447.5 33.5L448.2 34.9L448.9 36.4L452.7 40.0L456.3 41.4L457.9 44.0L461.3 47.0L462.4 48.6L462.5 50.1L461.5 50.6L459.3 49.0L456.2 47.2L453.1 45.4L450.7 44.1L450.9 45.8L450.3 47.0L447.0 45.8L442.8 43.0L439.5 40.4L439.0 38.3L439.2 37.3L439.3 36.2L437.4 33.4L434.5 30.8L432.8 28.5L432.5 27.5L432.2 26.6L432.4 25.8L432.6 25.1L432.6 24.3L432.6 23.5L433.3 23.2L433.9 22.9L435.0 22.8L436.2 22.8L438.1 23.0L442.9 25.5L447.7 28.1L452.4 30.8L457.0 33.6L461.6 36.4L466.1 39.3L463.1 38.8L462.2 39.3L461.3 39.9L460.5 40.3L459.6 40.7L456.2 39.2L451.4 35.9L450.4 34.1L449.2 32.4L448.1 31.2L446.5 31.3L445.0 31.5L447.5 33.5ZM414.7 41.4L413.1 41.2L411.6 41.0L409.7 40.8L408.7 39.4L406.4 39.2L405.5 38.4L405.6 36.6L407.6 36.5L409.7 36.4L410.9 35.7L413.7 36.7L416.0 38.0L416.2 39.3L415.5 40.3L414.7 41.4ZM366.8 43.2L369.9 46.9L369.2 47.9L368.5 48.9L366.8 48.5L365.2 48.2L365.9 47.2L366.7 46.1L365.1 46.6L363.5 47.0L361.9 47.4L359.5 46.2L357.1 44.9L354.8 44.8L352.6 44.6L352.8 43.3L353.8 42.3L354.8 41.3L354.0 38.5L351.9 37.6L349.8 36.8L347.7 36.0L345.7 35.2L343.8 35.3L341.8 35.4L339.9 35.5L337.7 35.2L335.5 34.8L333.0 32.1L331.4 29.4L332.8 29.2L334.2 28.9L335.6 28.6L337.2 28.6L338.7 28.6L340.3 28.6L342.7 29.3L345.1 30.0L347.8 31.0L350.5 32.1L353.4 33.3L356.3 34.5L358.6 36.2L361.1 37.3L363.6 38.4L366.2 39.5L367.4 40.3L367.1 41.8L366.8 43.2ZM385.3 18.8L388.4 21.2L391.4 23.6L393.9 26.2L396.2 28.8L396.5 30.2L396.7 31.6L396.1 32.5L395.5 33.4L394.8 34.4L394.3 35.6L393.8 36.8L393.2 38.1L392.6 39.3L391.8 40.2L391.0 41.0L392.6 44.3L394.0 47.6L394.8 50.7L392.0 50.1L389.3 49.5L386.4 47.6L383.5 45.7L380.3 43.1L377.1 40.5L374.7 38.3L372.3 36.1L372.3 34.6L372.3 33.2L368.8 31.6L365.4 30.0L362.3 27.7L359.2 25.4L357.2 24.8L355.2 24.1L353.2 23.5L351.8 23.6L350.5 23.6L349.1 23.7L347.7 23.8L345.4 22.8L343.2 21.7L340.2 20.2L340.7 19.1L341.1 18.0L341.4 16.9L342.2 15.9L342.8 15.0L343.5 14.0L344.1 13.1L345.2 12.8L346.3 12.5L347.3 12.1L348.4 11.8L349.4 11.5L350.5 11.2L351.5 10.9L352.5 10.5L353.7 10.4L354.9 10.2L356.0 10.1L357.2 9.9L358.3 9.7L359.5 9.6L360.6 9.4L362.6 9.7L364.7 10.1L366.7 10.4L368.8 10.7L370.8 11.1L373.8 12.1L376.7 13.1L379.7 14.1L382.6 16.4L385.3 18.8ZM401.7 13.4L400.2 12.3L401.0 11.9L401.8 11.5L402.6 11.1L403.4 10.8L404.9 10.8L406.3 10.8L407.8 10.8L409.3 10.8L409.9 11.8L410.5 12.8L411.1 13.9L411.7 15.0L412.3 16.1L410.1 15.6L407.8 15.2L404.7 14.3L401.7 13.4ZM342.6 13.2L342.3 14.4L341.9 15.6L341.4 16.9L340.5 17.4L339.5 18.0L338.5 18.7L337.5 19.3L336.5 19.9L336.8 21.9L337.0 23.9L335.2 23.9L333.4 23.9L331.6 24.0L329.9 24.0L328.1 24.0L326.0 22.7L323.8 21.4L324.3 20.0L324.6 18.6L322.9 18.0L321.1 17.5L319.4 16.9L320.2 16.0L320.9 15.0L321.5 14.1L322.8 13.7L324.0 13.3L325.3 12.9L326.5 12.5L327.7 12.1L329.1 12.0L330.6 11.9L332.1 11.9L333.5 11.8L335.0 11.8L336.9 12.1L338.8 12.5L340.7 12.8L342.6 13.2Z" fill="#c0c0c0" stroke="#555" stroke-width="0.7" stroke-linejoin="round"/><path d="M249.1 313.5L250.9 313.6L252.6 313.7L254.4 313.7L256.1 313.8L257.8 313.9L259.5 313.8L261.2 313.6L262.9 313.5L264.6 313.4L266.4 313.3L267.6 312.8L268.9 312.3L269.9 314.6L270.9 317.0L269.6 318.8L268.5 320.7L267.4 322.6L266.0 322.9L264.7 323.3L263.3 323.6L262.0 324.0L260.7 324.4L259.4 324.7L258.1 325.1L256.9 325.5L255.4 325.2L254.0 325.0L252.5 324.8L251.1 324.6L249.6 324.4L248.1 324.2L246.6 324.0L245.1 323.8L243.1 322.7L241.0 321.6L238.8 320.5L236.7 319.4L235.9 316.4L235.2 313.3L236.9 313.3L238.7 313.3L240.4 313.3L242.2 313.4L243.9 313.4L245.6 313.4L247.4 313.5L249.1 313.5ZM367.4 316.6L368.7 316.7L370.0 316.8L371.3 316.9L367.8 318.6L364.4 320.3L362.2 320.7L360.0 321.1L357.8 321.6L355.7 322.0L353.5 322.4L351.4 322.9L350.0 322.8L348.7 322.7L347.3 322.7L345.9 322.6L344.5 322.5L343.1 322.4L341.7 322.4L340.4 322.3L339.5 321.5L338.7 320.8L337.8 320.0L336.9 319.2L335.9 318.5L338.5 317.1L341.1 315.7L343.7 314.3L346.2 313.4L348.8 312.6L351.3 311.7L353.9 310.9L354.8 311.9L356.0 312.5L357.1 313.2L358.3 313.8L359.4 314.4L360.4 315.1L361.9 315.4L363.3 315.7L364.7 316.0L366.0 316.3L367.4 316.6ZM76.9 68.8L75.2 70.7L72.0 71.3L70.6 72.2L69.3 74.5L69.4 77.2L68.7 79.3L66.5 81.3L66.0 83.4L63.7 86.9L61.7 87.3L59.7 87.7L58.3 85.9L59.3 83.6L62.8 80.0L64.4 76.4L64.9 74.2L66.9 70.9L68.8 69.2L72.8 67.6L74.5 67.6L76.2 67.5L76.9 68.8Z" fill="#fff" stroke="#555" stroke-width="0.6"/></g>
<path id="ol" d="M382.0 335.6L387.8 333.7L393.7 331.7L399.5 329.5L405.4 327.3L411.1 325.0L416.9 322.6L422.6 320.1L428.3 317.4L433.9 314.7L439.4 311.9L444.9 309.0L450.3 306.0L455.6 302.9L460.9 299.7L466.0 296.4L471.0 293.0L475.9 289.6L480.7 286.0L485.4 282.4L490.0 278.7L494.4 274.9L498.7 271.0L502.8 267.1L506.8 263.1L510.7 259.0L514.4 254.9L517.9 250.7L521.3 246.4L524.5 242.1L527.5 237.7L530.3 233.3L533.0 228.8L535.5 224.3L537.8 219.7L539.9 215.1L541.8 210.5L543.5 205.8L545.0 201.1L546.3 196.4L547.4 191.7L548.4 186.9L549.1 182.2L549.6 177.4L549.9 172.6L550.0 167.8L549.9 163.0L549.6 158.2L549.1 153.4L548.4 148.7L547.4 143.9L546.3 139.2L545.0 134.5L543.5 129.8L541.8 125.1L539.9 120.5L537.8 115.9L535.5 111.3L533.0 106.8L530.3 102.3L527.5 97.9L524.5 93.5L521.3 89.2L517.9 84.9L514.4 80.7L510.7 76.6L506.8 72.5L502.8 68.5L498.7 64.6L494.4 60.7L490.0 56.9L485.4 53.2L480.7 49.6L475.9 46.0L471.0 42.6L466.0 39.2L460.9 35.9L455.6 32.7L450.3 29.6L444.9 26.6L439.4 23.7L433.9 20.9L428.3 18.2L422.6 15.5L416.9 13.0L411.1 10.6L405.4 8.3L399.5 6.1L393.7 3.9L387.8 1.9L382.0 0.0L168.0 0.0L162.2 1.9L156.3 3.9L150.5 6.1L144.6 8.3L138.9 10.6L133.1 13.0L127.4 15.5L121.7 18.2L116.1 20.9L110.6 23.7L105.1 26.6L99.7 29.6L94.4 32.7L89.1 35.9L84.0 39.2L79.0 42.6L74.1 46.0L69.3 49.6L64.6 53.2L60.0 56.9L55.6 60.7L51.3 64.6L47.2 68.5L43.2 72.5L39.3 76.6L35.6 80.7L32.1 84.9L28.7 89.2L25.5 93.5L22.5 97.9L19.7 102.3L17.0 106.8L14.5 111.3L12.2 115.9L10.1 120.5L8.2 125.1L6.5 129.8L5.0 134.5L3.7 139.2L2.6 143.9L1.6 148.7L0.9 153.4L0.4 158.2L0.1 163.0L0.0 167.8L0.1 172.6L0.4 177.4L0.9 182.2L1.6 186.9L2.6 191.7L3.7 196.4L5.0 201.1L6.5 205.8L8.2 210.5L10.1 215.1L12.2 219.7L14.5 224.3L17.0 228.8L19.7 233.3L22.5 237.7L25.5 242.1L28.7 246.4L32.1 250.7L35.6 254.9L39.3 259.0L43.2 263.1L47.2 267.1L51.3 271.0L55.6 274.9L60.0 278.7L64.6 282.4L69.3 286.0L74.1 289.6L79.0 293.0L84.0 296.4L89.1 299.7L94.4 302.9L99.7 306.0L105.1 309.0L110.6 311.9L116.1 314.7L121.7 317.4L127.4 320.1L133.1 322.6L138.9 325.0L144.6 327.3L150.5 329.5L156.3 331.7L162.2 333.7L168.0 335.6Z" fill="none" stroke="#444" stroke-width="0.9"/>
</defs>
<rect width="1704" height="2197" fill="#fff"/>
<text transform="translate(852.3 65.8) scale(1.076 1)" font-size="46" text-anchor="middle">ZOS Trends Differences (JFM)</text>
<text transform="translate(1576.8 127.4) scale(1.117 1)" font-size="37" text-anchor="middle" font-weight="bold" style="fill:#e1e1e1">© CVDP</text>
<text transform="translate(852.3 138.3) scale(1.056 1)" font-size="21.5" text-anchor="middle">ORAS5-dsl_1-ORAS5-dsl</text>
<g transform="translate(577.3 147.6)">
<g clip-path="url(#oc)">
<rect x="-2" y="-2" width="554" height="340" fill="#fff78f"/>
<use href="#land"/>
</g>
<use href="#ol"/>
</g>
<text transform="translate(1413.3 138.3) scale(1.056 1)" font-size="21.5" text-anchor="middle">ORAS5-dsl_2-ORAS5-dsl</text>
<g transform="translate(1138.3 147.6)">
<g clip-path="url(#oc)">
<g filter="url(#bl)">
<rect x="-40" y="-40" width="630" height="416" fill="#484848"/>
<ellipse cx="50.4" cy="70.7" rx="7.3" ry="4.7" fill="#c7c7c7"/>
<ellipse cx="30.4" cy="88.4" rx="4.7" ry="6.0" fill="#b7b7b7"/>
<polygon points="119.7,16.7 149.8,-13.3 403.2,-13.3 419.9,40.0 393.2,36.7 359.9,26.7 293.2,41.7 266.5,36.7 206.5,26.7 133.1,25.0" fill="#b7b7b7"/>
<polygon points="173.1,-13.3 396.6,-13.3 398.2,21.7 326.5,15.0 286.5,30.0 253.2,20.0 193.1,16.7" fill="#c7c7c7"/>
<ellipse cx="149.8" cy="20.0" rx="43.4" ry="7.3" fill="#979797" transform="rotate(-8 149.8 20.0)"/>
<ellipse cx="133.1" cy="20.0" rx="13.3" ry="4.7" fill="#686868" transform="rotate(-15 133.1 20.0)"/>
<ellipse cx="206.5" cy="65.1" rx="13.3" ry="9.3" fill="#686868"/>
<ellipse cx="241.5" cy="67.4" rx="30.0" ry="7.3" fill="#b7b7b7" transform="rotate(-3 241.5 67.4)"/>
<ellipse cx="246.5" cy="75.1" rx="40.0" ry="4.7" fill="#979797"/>
<ellipse cx="161.4" cy="101.7" rx="18.3" ry="23.3" fill="#383838" transform="rotate(30 161.4 101.7)"/>
<ellipse cx="166.4" cy="91.7" rx="7.3" ry="6.0" fill="#282828"/>
<ellipse cx="236.5" cy="97.4" rx="63.4" ry="6.7" fill="#979797" transform="rotate(6 236.5 97.4)"/>
<ellipse cx="213.1" cy="96.7" rx="23.3" ry="3.3" fill="#a7a7a7" transform="rotate(5 213.1 96.7)"/>
<ellipse cx="293.2" cy="108.4" rx="40.0" ry="6.0" fill="#878787" transform="rotate(8 293.2 108.4)"/>
<ellipse cx="293.2" cy="80.1" rx="40.0" ry="11.7" fill="#383838" transform="rotate(10 293.2 80.1)"/>
<ellipse cx="199.8" cy="120.1" rx="30.0" ry="6.0" fill="#686868"/>
<ellipse cx="249.8" cy="132.4" rx="20.0" ry="3.3" fill="#878787"/>
<ellipse cx="213.1" cy="145.1" rx="36.7" ry="4.7" fill="#979797"/>
<ellipse cx="309.9" cy="123.4" rx="26.7" ry="6.7" fill="#686868"/>
<ellipse cx="226.5" cy="156.8" rx="60.0" ry="6.0" fill="#585858" transform="rotate(3 226.5 156.8)"/>
<ellipse cx="149.8" cy="170.1" rx="30.0" ry="16.7" fill="#787878"/>
<ellipse cx="266.5" cy="167.4" rx="113.4" ry="14.0" fill="#878787" transform="rotate(2 266.5 167.4)"/>
<ellipse cx="313.2" cy="162.8" rx="70.0" ry="6.7" fill="#979797" transform="rotate(2 313.2 162.8)"/>
<ellipse cx="329.9" cy="161.8" rx="43.4" ry="3.3" fill="#a7a7a7" transform="rotate(2 329.9 161.8)"/>
<ellipse cx="199.8" cy="175.1" rx="40.0" ry="4.7" fill="#686868" transform="rotate(5 199.8 175.1)"/>
<ellipse cx="223.1" cy="185.1" rx="46.7" ry="10.0" fill="#979797" transform="rotate(8 223.1 185.1)"/>
<ellipse cx="216.5" cy="183.5" rx="30.0" ry="6.0" fill="#b7b7b7" transform="rotate(8 216.5 183.5)"/>
<ellipse cx="376.6" cy="206.8" rx="20.0" ry="36.7" fill="#383838" transform="rotate(-10 376.6 206.8)"/>
<ellipse cx="293.2" cy="200.1" rx="83.4" ry="7.3" fill="#383838" transform="rotate(5 293.2 200.1)"/>
<ellipse cx="293.2" cy="238.5" rx="86.7" ry="30.0" fill="#878787" transform="rotate(3 293.2 238.5)"/>
<ellipse cx="286.5" cy="236.8" rx="66.7" ry="21.7" fill="#979797" transform="rotate(3 286.5 236.8)"/>
<ellipse cx="273.2" cy="231.8" rx="40.0" ry="13.3" fill="#a7a7a7" transform="rotate(3 273.2 231.8)"/>
<ellipse cx="209.8" cy="246.8" rx="20.0" ry="18.3" fill="#b7b7b7"/>
<ellipse cx="286.5" cy="260.8" rx="30.0" ry="6.0" fill="#484848"/>
<ellipse cx="346.5" cy="253.5" rx="16.7" ry="13.3" fill="#686868"/>
<ellipse cx="226.5" cy="281.8" rx="186.8" ry="18.3" fill="#878787"/>
<ellipse cx="159.8" cy="260.2" rx="140.1" ry="23.3" fill="#979797" transform="rotate(4 159.8 260.2)"/>
<ellipse cx="136.4" cy="255.2" rx="86.7" ry="13.3" fill="#b7b7b7" transform="rotate(6 136.4 255.2)"/>
<ellipse cx="126.4" cy="255.2" rx="50.0" ry="7.3" fill="#c7c7c7" transform="rotate(8 126.4 255.2)"/>
<ellipse cx="119.7" cy="256.8" rx="20.0" ry="4.0" fill="#d7d7d7" transform="rotate(8 119.7 256.8)"/>
<ellipse cx="286.5" cy="266.8" rx="30.0" ry="10.0" fill="#b7b7b7"/>
<ellipse cx="283.2" cy="266.8" rx="13.3" ry="5.0" fill="#c7c7c7"/>
<ellipse cx="193.1" cy="286.9" rx="100.1" ry="13.3" fill="#878787" transform="rotate(3 193.1 286.9)"/>
<ellipse cx="166.4" cy="285.2" rx="30.0" ry="7.3" fill="#585858"/>
<ellipse cx="303.2" cy="280.2" rx="26.7" ry="6.7" fill="#585858"/>
<ellipse cx="246.5" cy="300.2" rx="110.1" ry="3.3" fill="#b7b7b7"/>
<ellipse cx="243.2" cy="308.5" rx="11.7" ry="6.0" fill="#d7d7d7"/>
<ellipse cx="29.7" cy="160.1" rx="13.3" ry="20.0" fill="#878787"/>
<ellipse cx="73.0" cy="168.4" rx="40.0" ry="15.0" fill="#787878"/>
<ellipse cx="79.7" cy="136.8" rx="13.3" ry="13.3" fill="#878787"/>
<ellipse cx="49.7" cy="140.1" rx="16.7" ry="10.0" fill="#686868"/>
<ellipse cx="49.7" cy="190.1" rx="36.7" ry="15.0" fill="#a7a7a7"/>
<ellipse cx="54.7" cy="190.1" rx="25.0" ry="8.3" fill="#c7c7c7"/>
<ellipse cx="59.7" cy="190.8" rx="11.7" ry="4.0" fill="#d7d7d7"/>
<ellipse cx="93.1" cy="213.5" rx="40.0" ry="6.7" fill="#686868"/>
<ellipse cx="103.1" cy="243.5" rx="86.7" ry="9.3" fill="#979797" transform="rotate(3 103.1 243.5)"/>
<ellipse cx="76.4" cy="243.5" rx="33.4" ry="5.3" fill="#a7a7a7"/>
<ellipse cx="351.5" cy="54.0" rx="12.7" ry="8.0" fill="#b7b7b7"/>
<ellipse cx="379.9" cy="46.7" rx="16.7" ry="23.3" fill="#a7a7a7" transform="rotate(-30 379.9 46.7)"/>
<ellipse cx="401.6" cy="26.7" rx="7.3" ry="20.0" fill="#b7b7b7" transform="rotate(-15 401.6 26.7)"/>
<ellipse cx="423.3" cy="30.0" rx="16.7" ry="15.0" fill="#979797"/>
<ellipse cx="426.6" cy="66.7" rx="26.7" ry="20.0" fill="#383838" transform="rotate(20 426.6 66.7)"/>
<ellipse cx="401.6" cy="80.1" rx="23.3" ry="4.0" fill="#282828" transform="rotate(-30 401.6 80.1)"/>
<ellipse cx="459.9" cy="98.4" rx="18.3" ry="20.0" fill="#979797"/>
<ellipse cx="461.6" cy="95.1" rx="11.7" ry="13.3" fill="#a7a7a7"/>
<ellipse cx="500.0" cy="80.1" rx="23.3" ry="8.3" fill="#a7a7a7" transform="rotate(10 500.0 80.1)"/>
<ellipse cx="433.3" cy="126.8" rx="46.7" ry="11.7" fill="#878787"/>
<ellipse cx="403.2" cy="136.8" rx="20.0" ry="8.3" fill="#686868"/>
<ellipse cx="363.2" cy="118.4" rx="13.3" ry="8.3" fill="#585858"/>
<ellipse cx="476.6" cy="173.4" rx="36.7" ry="13.3" fill="#787878"/>
<ellipse cx="506.6" cy="160.1" rx="13.3" ry="10.0" fill="#878787"/>
<ellipse cx="508.3" cy="196.8" rx="11.7" ry="30.0" fill="#979797"/>
<ellipse cx="453.3" cy="186.8" rx="13.3" ry="6.7" fill="#878787"/>
<ellipse cx="476.6" cy="228.5" rx="43.4" ry="16.7" fill="#979797"/>
<ellipse cx="493.3" cy="213.5" rx="13.3" ry="10.0" fill="#a7a7a7"/>
<ellipse cx="459.9" cy="280.2" rx="76.7" ry="21.7" fill="#979797"/>
<ellipse cx="466.6" cy="260.2" rx="66.7" ry="16.7" fill="#a7a7a7"/>
<ellipse cx="486.6" cy="258.5" rx="33.4" ry="10.0" fill="#b7b7b7"/>
<ellipse cx="503.3" cy="256.8" rx="11.7" ry="6.0" fill="#d7d7d7"/>
<ellipse cx="409.9" cy="250.2" rx="11.7" ry="10.0" fill="#383838"/>
<ellipse cx="413.3" cy="296.9" rx="33.4" ry="8.3" fill="#b7b7b7"/>
<ellipse cx="371.6" cy="305.2" rx="15.0" ry="10.0" fill="#d7d7d7"/>
</g>
<use href="#land"/>
</g>
<use href="#ol"/>
</g>
<text transform="translate(291.3 525.4) scale(1.056 1)" font-size="21.5" text-anchor="middle">CESM3 BLT1850 198-ORAS5-dsl</text>
<g transform="translate(16.3 531.8)">
<g clip-path="url(#oc)">
<g filter="url(#bl)">
<rect x="-40" y="-40" width="630" height="416" fill="#484848"/>
<ellipse cx="50.4" cy="70.7" rx="7.3" ry="4.7" fill="#a7a7a7"/>
<ellipse cx="30.4" cy="88.4" rx="4.7" ry="6.0" fill="#a7a7a7"/>
<ellipse cx="143.1" cy="16.7" rx="50.0" ry="15.0" fill="#383838" transform="rotate(-10 143.1 16.7)"/>
<ellipse cx="123.1" cy="21.7" rx="16.7" ry="6.7" fill="#282828" transform="rotate(-20 123.1 21.7)"/>
<ellipse cx="209.8" cy="11.7" rx="27.3" ry="10.0" fill="#a7a7a7"/>
<ellipse cx="209.8" cy="11.0" rx="20.0" ry="7.7" fill="#c7c7c7"/>
<ellipse cx="283.2" cy="18.4" rx="46.7" ry="18.3" fill="#282828"/>
<ellipse cx="276.5" cy="21.7" rx="20.7" ry="10.7" fill="#000000"/>
<ellipse cx="351.5" cy="54.0" rx="12.7" ry="8.0" fill="#383838"/>
<ellipse cx="369.9" cy="40.0" rx="36.7" ry="16.7" fill="#282828" transform="rotate(35 369.9 40.0)"/>
<ellipse cx="369.9" cy="41.7" rx="24.0" ry="10.0" fill="#000000" transform="rotate(38 369.9 41.7)"/>
<ellipse cx="416.6" cy="20.0" rx="26.7" ry="23.3" fill="#282828" transform="rotate(30 416.6 20.0)"/>
<ellipse cx="449.9" cy="43.4" rx="15.0" ry="21.7" fill="#181818" transform="rotate(30 449.9 43.4)"/>
<ellipse cx="459.9" cy="41.7" rx="4.7" ry="9.3" fill="#000000" transform="rotate(20 459.9 41.7)"/>
<ellipse cx="436.6" cy="126.8" rx="56.7" ry="40.0" fill="#282828" transform="rotate(20 436.6 126.8)"/>
<ellipse cx="419.9" cy="96.7" rx="50.0" ry="30.0" fill="#181818" transform="rotate(-20 419.9 96.7)"/>
<polygon points="379.9,76.7 403.2,86.7 429.9,83.4 436.6,63.4 456.6,66.7 459.9,90.1 433.3,110.1 403.2,120.1 383.2,113.4" fill="#000000"/>
<ellipse cx="408.2" cy="53.4" rx="7.3" ry="9.3" fill="#a7a7a7"/>
<ellipse cx="417.3" cy="65.1" rx="12.7" ry="19.3" fill="#c7c7c7" transform="rotate(-20 417.3 65.1)"/>
<ellipse cx="422.3" cy="69.4" rx="6.7" ry="12.7" fill="#ffffff" transform="rotate(-15 422.3 69.4)"/>
<ellipse cx="361.6" cy="118.4" rx="10.7" ry="8.3" fill="#000000"/>
<ellipse cx="389.9" cy="136.8" rx="25.0" ry="12.7" fill="#282828" transform="rotate(15 389.9 136.8)"/>
<ellipse cx="389.9" cy="136.8" rx="19.3" ry="8.0" fill="#000000" transform="rotate(15 389.9 136.8)"/>
<ellipse cx="470.0" cy="180.1" rx="46.7" ry="36.7" fill="#383838"/>
<ellipse cx="476.6" cy="213.5" rx="36.7" ry="23.3" fill="#383838"/>
<ellipse cx="500.0" cy="81.7" rx="23.3" ry="7.3" fill="#a7a7a7" transform="rotate(12 500.0 81.7)"/>
<ellipse cx="486.6" cy="80.1" rx="10.0" ry="5.0" fill="#979797"/>
<ellipse cx="453.3" cy="276.8" rx="75.0" ry="33.4" fill="#a7a7a7" transform="rotate(-8 453.3 276.8)"/>
<polygon points="389.9,280.2 413.3,263.5 459.9,250.2 513.3,246.8 523.3,256.8 493.3,290.2 443.3,306.9 403.2,300.2" fill="#c7c7c7"/>
<ellipse cx="446.6" cy="278.5" rx="50.0" ry="13.3" fill="#e7e7e7" transform="rotate(-10 446.6 278.5)"/>
<ellipse cx="423.3" cy="276.8" rx="30.0" ry="6.7" fill="#ffffff" transform="rotate(-12 423.3 276.8)"/>
<ellipse cx="470.0" cy="266.2" rx="14.0" ry="10.0" fill="#ffffff"/>
<ellipse cx="414.9" cy="243.5" rx="11.7" ry="3.3" fill="#181818"/>
<ellipse cx="373.2" cy="305.2" rx="13.3" ry="8.3" fill="#686868"/>
<ellipse cx="199.8" cy="66.7" rx="14.0" ry="16.0" fill="#a7a7a7" transform="rotate(-40 199.8 66.7)"/>
<ellipse cx="246.5" cy="60.0" rx="24.0" ry="7.3" fill="#979797"/>
<ellipse cx="183.1" cy="96.7" rx="13.3" ry="8.3" fill="#282828"/>
<ellipse cx="249.8" cy="95.1" rx="20.7" ry="7.3" fill="#a7a7a7"/>
<ellipse cx="206.5" cy="116.7" rx="24.0" ry="9.3" fill="#979797"/>
<ellipse cx="193.1" cy="127.4" rx="16.7" ry="6.0" fill="#878787"/>
<ellipse cx="293.2" cy="113.4" rx="26.7" ry="20.0" fill="#383838"/>
<ellipse cx="199.8" cy="139.4" rx="55.0" ry="4.7" fill="#a7a7a7"/>
<ellipse cx="303.2" cy="136.8" rx="7.3" ry="2.7" fill="#a7a7a7"/>
<ellipse cx="136.4" cy="155.1" rx="12.0" ry="16.0" fill="#878787"/>
<ellipse cx="219.8" cy="170.1" rx="31.7" ry="8.7" fill="#686868"/>
<ellipse cx="293.2" cy="165.8" rx="98.4" ry="17.3" fill="#878787"/>
<polygon points="239.8,162.8 276.5,155.8 359.9,153.4 383.9,160.1 383.9,176.8 326.5,177.5 276.5,175.5 246.5,170.8" fill="#b7b7b7"/>
<ellipse cx="226.5" cy="186.8" rx="38.4" ry="6.7" fill="#b7b7b7" transform="rotate(5 226.5 186.8)"/>
<ellipse cx="113.1" cy="193.5" rx="73.4" ry="23.3" fill="#979797" transform="rotate(-5 113.1 193.5)"/>
<polygon points="46.4,193.5 93.1,185.1 113.1,176.8 143.1,180.1 159.8,173.4 179.8,183.5 173.1,196.8 149.8,200.1 133.1,213.5 103.1,206.8 69.7,203.5" fill="#b7b7b7"/>
<ellipse cx="63.0" cy="198.5" rx="14.0" ry="5.0" fill="#d7d7d7"/>
<ellipse cx="293.2" cy="196.8" rx="100.1" ry="7.3" fill="#383838" transform="rotate(5 293.2 196.8)"/>
<ellipse cx="369.9" cy="186.8" rx="20.0" ry="6.7" fill="#686868"/>
<ellipse cx="276.5" cy="223.5" rx="86.7" ry="18.3" fill="#979797" transform="rotate(4 276.5 223.5)"/>
<ellipse cx="269.8" cy="218.5" rx="78.4" ry="11.3" fill="#a7a7a7" transform="rotate(2 269.8 218.5)"/>
<ellipse cx="223.1" cy="220.1" rx="23.3" ry="9.3" fill="#b7b7b7"/>
<ellipse cx="259.8" cy="241.8" rx="36.7" ry="8.7" fill="#979797" transform="rotate(12 259.8 241.8)"/>
<ellipse cx="283.2" cy="246.8" rx="50.0" ry="6.0" fill="#a7a7a7" transform="rotate(15 283.2 246.8)"/>
<ellipse cx="259.8" cy="280.2" rx="108.4" ry="18.3" fill="#282828" transform="rotate(3 259.8 280.2)"/>
<ellipse cx="259.8" cy="281.8" rx="83.4" ry="9.3" fill="#181818" transform="rotate(3 259.8 281.8)"/>
<ellipse cx="189.8" cy="281.8" rx="27.3" ry="7.3" fill="#000000"/>
<ellipse cx="326.5" cy="281.8" rx="37.4" ry="8.3" fill="#000000"/>
<ellipse cx="246.5" cy="270.2" rx="16.7" ry="5.0" fill="#000000"/>
<ellipse cx="264.8" cy="268.5" rx="5.0" ry="6.0" fill="#ffffff"/>
<ellipse cx="248.2" cy="305.2" rx="11.7" ry="3.3" fill="#c7c7c7"/>
<ellipse cx="93.1" cy="243.5" rx="71.7" ry="8.3" fill="#282828" transform="rotate(5 93.1 243.5)"/>
<ellipse cx="93.1" cy="271.8" rx="68.4" ry="26.0" fill="#a7a7a7" transform="rotate(12 93.1 271.8)"/>
<polygon points="43.0,260.2 76.4,255.2 126.4,260.2 153.1,273.5 159.8,290.2 139.8,298.5 103.1,296.9 69.7,286.9 49.7,273.5" fill="#c7c7c7"/>
<ellipse cx="103.1" cy="280.2" rx="40.0" ry="10.7" fill="#e7e7e7" transform="rotate(12 103.1 280.2)"/>
<ellipse cx="93.1" cy="283.5" rx="14.0" ry="6.0" fill="#ffffff"/>
<ellipse cx="133.1" cy="288.5" rx="10.0" ry="6.7" fill="#ffffff"/>
<ellipse cx="56.4" cy="136.8" rx="33.4" ry="24.0" fill="#383838"/>
<ellipse cx="49.7" cy="176.8" rx="33.4" ry="13.3" fill="#585858"/>
<ellipse cx="79.7" cy="220.1" rx="50.0" ry="10.0" fill="#383838"/>
<ellipse cx="59.7" cy="227.5" rx="13.3" ry="2.7" fill="#a7a7a7"/>
<ellipse cx="26.4" cy="220.1" rx="6.0" ry="8.3" fill="#878787"/>
</g>
<use href="#land"/>
</g>
<use href="#ol"/>
</g>
<text transform="translate(852.3 525.4) scale(1.056 1)" font-size="21.5" text-anchor="middle">CESM3 BLT1850 199-ORAS5-dsl</text>
<g transform="translate(577.3 531.8)">
<g clip-path="url(#oc)">
<g filter="url(#bl)">
<rect x="-40" y="-40" width="630" height="416" fill="#484848"/>
<ellipse cx="50.4" cy="70.7" rx="7.3" ry="4.7" fill="#c7c7c7"/>
<ellipse cx="30.4" cy="88.4" rx="4.7" ry="6.0" fill="#b7b7b7"/>
<ellipse cx="276.5" cy="3.3" rx="123.4" ry="7.3" fill="#a7a7a7"/>
<polygon points="149.8,-13.3 403.2,-13.3 391.6,8.0 313.2,6.0 246.5,8.4 193.1,7.3" fill="#d7d7d7"/>
<ellipse cx="209.8" cy="11.7" rx="27.3" ry="12.7" fill="#d7d7d7"/>
<ellipse cx="209.8" cy="10.7" rx="16.0" ry="7.3" fill="#ffffff"/>
<ellipse cx="276.5" cy="21.7" rx="36.7" ry="16.7" fill="#484848"/>
<ellipse cx="276.5" cy="21.7" rx="23.3" ry="15.0" fill="#282828"/>
<ellipse cx="274.8" cy="22.7" rx="14.0" ry="9.3" fill="#000000"/>
<ellipse cx="146.4" cy="23.4" rx="40.0" ry="8.3" fill="#585858" transform="rotate(-10 146.4 23.4)"/>
<ellipse cx="386.6" cy="55.0" rx="16.7" ry="7.3" fill="#000000" transform="rotate(40 386.6 55.0)"/>
<ellipse cx="401.6" cy="30.0" rx="4.7" ry="16.7" fill="#b7b7b7" transform="rotate(-10 401.6 30.0)"/>
<ellipse cx="416.6" cy="55.0" rx="24.0" ry="15.0" fill="#a7a7a7" transform="rotate(25 416.6 55.0)"/>
<ellipse cx="419.9" cy="56.7" rx="15.0" ry="8.7" fill="#d7d7d7" transform="rotate(25 419.9 56.7)"/>
<ellipse cx="459.9" cy="153.4" rx="56.7" ry="53.4" fill="#383838"/>
<ellipse cx="423.3" cy="96.7" rx="51.7" ry="30.7" fill="#282828" transform="rotate(-25 423.3 96.7)"/>
<polygon points="376.6,106.7 389.9,76.7 413.3,66.7 436.6,76.7 450.6,73.4 446.6,93.4 423.3,103.4 403.2,113.4 383.2,120.1" fill="#000000"/>
<ellipse cx="379.9" cy="130.1" rx="14.0" ry="6.7" fill="#181818"/>
<ellipse cx="361.6" cy="118.4" rx="10.7" ry="8.3" fill="#000000"/>
<ellipse cx="389.9" cy="140.1" rx="20.0" ry="8.0" fill="#000000" transform="rotate(20 389.9 140.1)"/>
<ellipse cx="436.6" cy="166.8" rx="28.4" ry="13.3" fill="#282828" transform="rotate(30 436.6 166.8)"/>
<ellipse cx="470.0" cy="230.2" rx="43.4" ry="20.0" fill="#383838"/>
<ellipse cx="500.0" cy="81.7" rx="23.3" ry="7.3" fill="#979797" transform="rotate(12 500.0 81.7)"/>
<ellipse cx="517.3" cy="87.4" rx="6.7" ry="4.7" fill="#c7c7c7"/>
<ellipse cx="403.2" cy="260.2" rx="20.7" ry="17.3" fill="#282828"/>
<ellipse cx="456.6" cy="266.8" rx="58.4" ry="16.7" fill="#c7c7c7"/>
<polygon points="426.6,257.5 466.6,251.8 513.3,254.2 526.7,246.8 521.7,267.5 486.6,274.2 453.3,270.8 426.6,270.8" fill="#ffffff"/>
<ellipse cx="470.0" cy="274.2" rx="13.3" ry="4.7" fill="#000000"/>
<polygon points="356.6,317.5 376.6,300.9 426.6,302.9 476.6,297.5 513.3,280.8 530.0,273.5 530.0,317.5" fill="#ffffff"/>
<ellipse cx="426.6" cy="293.5" rx="46.7" ry="7.3" fill="#d7d7d7" transform="rotate(-5 426.6 293.5)"/>
<ellipse cx="196.5" cy="68.4" rx="11.7" ry="16.7" fill="#a7a7a7" transform="rotate(-40 196.5 68.4)"/>
<ellipse cx="259.8" cy="88.4" rx="31.7" ry="8.7" fill="#979797"/>
<ellipse cx="223.1" cy="73.4" rx="40.7" ry="18.3" fill="#a7a7a7" transform="rotate(-15 223.1 73.4)"/>
<ellipse cx="226.5" cy="70.1" rx="14.0" ry="8.3" fill="#c7c7c7"/>
<ellipse cx="193.1" cy="88.4" rx="10.0" ry="5.3" fill="#c7c7c7"/>
<ellipse cx="183.1" cy="95.1" rx="6.0" ry="3.3" fill="#000000"/>
<ellipse cx="213.1" cy="115.1" rx="46.7" ry="4.3" fill="#878787"/>
<ellipse cx="246.5" cy="123.4" rx="20.0" ry="3.7" fill="#787878"/>
<ellipse cx="326.5" cy="134.1" rx="33.4" ry="4.3" fill="#787878"/>
<ellipse cx="338.2" cy="136.8" rx="5.0" ry="2.3" fill="#a7a7a7"/>
<ellipse cx="259.8" cy="146.8" rx="111.7" ry="4.0" fill="#282828"/>
<ellipse cx="293.2" cy="166.8" rx="88.4" ry="16.0" fill="#686868"/>
<ellipse cx="303.2" cy="163.4" rx="57.4" ry="11.3" fill="#979797" transform="rotate(3 303.2 163.4)"/>
<ellipse cx="308.2" cy="163.4" rx="50.0" ry="8.0" fill="#a7a7a7" transform="rotate(3 308.2 163.4)"/>
<ellipse cx="379.9" cy="166.8" rx="4.0" ry="10.0" fill="#a7a7a7"/>
<ellipse cx="143.1" cy="150.1" rx="6.7" ry="14.0" fill="#878787"/>
<ellipse cx="193.1" cy="188.5" rx="7.3" ry="6.0" fill="#a7a7a7"/>
<ellipse cx="49.7" cy="130.1" rx="25.0" ry="18.3" fill="#383838"/>
<ellipse cx="66.4" cy="166.8" rx="44.0" ry="13.3" fill="#686868"/>
<ellipse cx="86.4" cy="163.4" rx="20.7" ry="6.7" fill="#787878"/>
<ellipse cx="109.7" cy="189.5" rx="45.0" ry="12.0" fill="#979797"/>
<ellipse cx="93.1" cy="193.5" rx="57.4" ry="8.7" fill="#a7a7a7" transform="rotate(-3 93.1 193.5)"/>
<ellipse cx="83.1" cy="220.1" rx="60.0" ry="11.7" fill="#383838"/>
<ellipse cx="93.1" cy="240.8" rx="68.4" ry="11.3" fill="#282828" transform="rotate(3 93.1 240.8)"/>
<ellipse cx="59.7" cy="240.8" rx="33.4" ry="8.0" fill="#181818"/>
<ellipse cx="153.1" cy="231.8" rx="25.3" ry="3.3" fill="#a7a7a7" transform="rotate(5 153.1 231.8)"/>
<ellipse cx="206.5" cy="238.5" rx="16.7" ry="10.7" fill="#000000"/>
<ellipse cx="309.9" cy="213.5" rx="85.1" ry="11.3" fill="#282828" transform="rotate(15 309.9 213.5)"/>
<ellipse cx="316.5" cy="220.8" rx="40.0" ry="2.7" fill="#787878" transform="rotate(18 316.5 220.8)"/>
<ellipse cx="346.5" cy="229.1" rx="8.7" ry="3.0" fill="#878787"/>
<ellipse cx="326.5" cy="250.2" rx="50.0" ry="16.7" fill="#282828" transform="rotate(15 326.5 250.2)"/>
<ellipse cx="249.8" cy="263.5" rx="37.4" ry="22.0" fill="#181818"/>
<ellipse cx="246.5" cy="261.8" rx="28.4" ry="16.7" fill="#000000"/>
<ellipse cx="326.5" cy="276.8" rx="53.4" ry="14.7" fill="#181818" transform="rotate(10 326.5 276.8)"/>
<ellipse cx="326.5" cy="280.2" rx="40.0" ry="8.0" fill="#000000" transform="rotate(12 326.5 280.2)"/>
<ellipse cx="319.9" cy="263.5" rx="2.7" ry="7.3" fill="#a7a7a7"/>
<ellipse cx="366.6" cy="260.2" rx="6.7" ry="6.7" fill="#c7c7c7"/>
<polygon points="34.7,250.8 93.1,249.5 153.1,256.2 193.1,263.5 226.5,273.5 223.1,281.8 159.8,275.2 93.1,278.5 53.0,281.8" fill="#d7d7d7"/>
<ellipse cx="103.1" cy="258.5" rx="40.0" ry="4.7" fill="#a7a7a7" transform="rotate(5 103.1 258.5)"/>
<polygon points="43.0,276.8 93.1,273.5 153.1,269.5 186.4,270.2 219.8,277.5 239.8,280.8 286.5,280.2 293.2,294.2 293.2,313.5 226.5,320.2 126.4,320.2 93.1,310.2 59.7,290.2" fill="#ffffff"/>
<ellipse cx="273.2" cy="295.2" rx="18.3" ry="7.3" fill="#d7d7d7"/>
<ellipse cx="69.7" cy="270.2" rx="20.0" ry="8.3" fill="#c7c7c7" transform="rotate(20 69.7 270.2)"/>
</g>
<use href="#land"/>
</g>
<use href="#ol"/>
</g>
<text transform="translate(1413.3 525.4) scale(1.056 1)" font-size="21.5" text-anchor="middle">CESM3 BLT1850 194 21-120-ORAS5-dsl</text>
<g transform="translate(1138.3 531.8)">
<g clip-path="url(#oc)">
<g filter="url(#bl)">
<rect x="-40" y="-40" width="630" height="416" fill="#484848"/>
<ellipse cx="50.4" cy="70.7" rx="7.3" ry="4.7" fill="#a7a7a7"/>
<ellipse cx="30.4" cy="88.4" rx="4.7" ry="6.0" fill="#a7a7a7"/>
<ellipse cx="149.8" cy="20.0" rx="46.7" ry="11.7" fill="#383838" transform="rotate(-10 149.8 20.0)"/>
<ellipse cx="214.8" cy="10.7" rx="31.7" ry="11.3" fill="#a7a7a7"/>
<ellipse cx="213.1" cy="10.7" rx="21.3" ry="8.3" fill="#d7d7d7"/>
<ellipse cx="276.5" cy="20.0" rx="27.3" ry="15.0" fill="#282828"/>
<ellipse cx="276.5" cy="23.4" rx="10.7" ry="7.3" fill="#000000"/>
<polygon points="339.9,-13.3 399.9,-13.3 391.6,4.0 346.5,3.3" fill="#a7a7a7"/>
<ellipse cx="426.6" cy="40.0" rx="30.7" ry="27.3" fill="#282828" transform="rotate(30 426.6 40.0)"/>
<ellipse cx="379.9" cy="46.7" rx="27.3" ry="10.0" fill="#000000" transform="rotate(35 379.9 46.7)"/>
<ellipse cx="399.9" cy="26.7" rx="6.0" ry="5.0" fill="#b7b7b7"/>
<ellipse cx="419.9" cy="56.7" rx="9.3" ry="6.0" fill="#b7b7b7"/>
<ellipse cx="426.6" cy="35.0" rx="6.7" ry="4.0" fill="#878787"/>
<ellipse cx="486.6" cy="193.5" rx="37.4" ry="57.4" fill="#383838"/>
<ellipse cx="446.6" cy="146.8" rx="37.4" ry="37.4" fill="#282828" transform="rotate(20 446.6 146.8)"/>
<ellipse cx="426.6" cy="93.4" rx="50.7" ry="34.0" fill="#181818" transform="rotate(-20 426.6 93.4)"/>
<ellipse cx="436.6" cy="160.1" rx="13.3" ry="10.0" fill="#181818"/>
<polygon points="376.6,113.4 386.6,80.1 403.2,63.4 426.6,66.7 456.6,70.1 459.9,83.4 439.9,103.4 413.3,116.7 393.2,123.4" fill="#000000"/>
<ellipse cx="379.9" cy="130.1" rx="13.3" ry="6.0" fill="#181818"/>
<ellipse cx="363.2" cy="118.4" rx="12.7" ry="9.3" fill="#000000"/>
<ellipse cx="389.9" cy="138.4" rx="18.3" ry="8.0" fill="#000000" transform="rotate(20 389.9 138.4)"/>
<ellipse cx="459.9" cy="220.1" rx="50.0" ry="23.3" fill="#282828" transform="rotate(-20 459.9 220.1)"/>
<ellipse cx="500.0" cy="81.7" rx="23.3" ry="7.3" fill="#686868" transform="rotate(12 500.0 81.7)"/>
<ellipse cx="518.3" cy="88.4" rx="5.0" ry="4.0" fill="#a7a7a7"/>
<ellipse cx="473.3" cy="260.2" rx="47.4" ry="13.3" fill="#c7c7c7"/>
<ellipse cx="459.9" cy="263.5" rx="11.7" ry="6.0" fill="#ffffff"/>
<ellipse cx="413.3" cy="266.8" rx="24.0" ry="11.7" fill="#000000" transform="rotate(10 413.3 266.8)"/>
<polygon points="353.2,317.5 376.6,296.9 403.2,284.2 459.9,280.2 513.3,273.5 530.7,270.2 530.7,317.5" fill="#ffffff"/>
<ellipse cx="416.6" cy="296.9" rx="35.0" ry="8.7" fill="#d7d7d7"/>
<ellipse cx="486.6" cy="280.2" rx="26.7" ry="6.7" fill="#c7c7c7"/>
<ellipse cx="259.8" cy="103.4" rx="68.4" ry="20.7" fill="#383838"/>
<ellipse cx="173.1" cy="96.7" rx="20.0" ry="14.0" fill="#282828"/>
<ellipse cx="193.1" cy="96.7" rx="8.3" ry="3.7" fill="#000000"/>
<ellipse cx="256.5" cy="56.0" rx="16.7" ry="10.7" fill="#a7a7a7"/>
<ellipse cx="246.5" cy="69.4" rx="38.4" ry="5.7" fill="#a7a7a7"/>
<ellipse cx="226.5" cy="69.4" rx="10.0" ry="2.7" fill="#c7c7c7"/>
<ellipse cx="223.1" cy="124.1" rx="13.3" ry="4.0" fill="#878787"/>
<ellipse cx="269.8" cy="128.4" rx="10.0" ry="3.3" fill="#878787"/>
<ellipse cx="286.5" cy="141.8" rx="20.7" ry="4.0" fill="#979797"/>
<ellipse cx="323.2" cy="136.8" rx="33.4" ry="7.3" fill="#a7a7a7" transform="rotate(5 323.2 136.8)"/>
<ellipse cx="206.5" cy="171.8" rx="30.7" ry="14.0" fill="#686868"/>
<ellipse cx="276.5" cy="166.8" rx="85.1" ry="18.7" fill="#878787"/>
<ellipse cx="301.5" cy="165.1" rx="83.4" ry="14.0" fill="#a7a7a7"/>
<polygon points="259.8,158.4 293.2,153.4 359.9,153.4 383.9,161.8 383.9,175.8 343.2,178.8 293.2,176.8 263.2,170.1" fill="#c7c7c7"/>
<ellipse cx="196.5" cy="191.8" rx="16.7" ry="5.0" fill="#a7a7a7"/>
<ellipse cx="329.9" cy="196.8" rx="57.4" ry="4.7" fill="#686868" transform="rotate(12 329.9 196.8)"/>
<ellipse cx="276.5" cy="213.5" rx="26.7" ry="13.3" fill="#383838"/>
<ellipse cx="326.5" cy="223.5" rx="37.4" ry="18.7" fill="#979797" transform="rotate(15 326.5 223.5)"/>
<ellipse cx="329.9" cy="223.5" rx="28.4" ry="12.7" fill="#a7a7a7" transform="rotate(15 329.9 223.5)"/>
<ellipse cx="239.8" cy="228.5" rx="20.0" ry="6.0" fill="#979797"/>
<ellipse cx="223.1" cy="238.5" rx="23.3" ry="15.0" fill="#a7a7a7"/>
<ellipse cx="36.4" cy="175.1" rx="20.0" ry="10.0" fill="#878787"/>
<polygon points="19.7,166.8 36.4,146.8 59.7,150.1 59.7,166.8 43.0,180.1 69.7,183.5 103.1,180.1 126.4,190.1 119.7,200.1 93.1,203.5 59.7,201.8 33.0,196.8 19.7,186.8" fill="#a7a7a7"/>
<ellipse cx="63.0" cy="196.8" rx="16.7" ry="4.3" fill="#c7c7c7"/>
<ellipse cx="68.0" cy="173.4" rx="10.0" ry="13.3" fill="#787878"/>
<ellipse cx="83.1" cy="220.1" rx="60.0" ry="11.7" fill="#383838"/>
<ellipse cx="76.4" cy="240.2" rx="54.0" ry="10.0" fill="#282828"/>
<ellipse cx="319.9" cy="273.5" rx="68.4" ry="18.3" fill="#181818" transform="rotate(10 319.9 273.5)"/>
<polygon points="256.5,253.5 293.2,263.5 326.5,270.2 359.9,270.2 386.6,280.2 369.9,290.2 326.5,293.5 299.9,283.5 279.8,273.5" fill="#000000"/>
<ellipse cx="63.0" cy="263.5" rx="24.0" ry="13.3" fill="#c7c7c7" transform="rotate(20 63.0 263.5)"/>
<polygon points="76.4,263.5 103.1,255.2 159.8,256.8 199.8,263.5 239.8,260.2 259.8,256.8 283.2,273.5 293.2,286.9 259.8,290.2 233.1,300.2 253.2,317.5 126.4,317.5 126.4,293.5 93.1,280.2" fill="#ffffff"/>
<ellipse cx="106.4" cy="295.2" rx="13.3" ry="7.3" fill="#282828"/>
<ellipse cx="259.8" cy="291.9" rx="27.3" ry="4.7" fill="#c7c7c7"/>
<ellipse cx="276.5" cy="298.5" rx="16.7" ry="5.3" fill="#484848"/>
</g>
<use href="#land"/>
</g>
<use href="#ol"/>
</g>
<text transform="translate(291.3 909.1) scale(1.056 1)" font-size="21.5" text-anchor="middle">CESM3 BLT1850 194 41-120-ORAS5-dsl</text>
<g transform="translate(16.3 914.9)">
<g clip-path="url(#oc)">
<g filter="url(#bl)">
<rect x="-40" y="-40" width="630" height="416" fill="#484848"/>
<ellipse cx="50.4" cy="70.7" rx="7.3" ry="4.7" fill="#a7a7a7"/>
<ellipse cx="30.4" cy="88.4" rx="4.7" ry="6.0" fill="#a7a7a7"/>
<polygon points="293.2,-13.3 399.9,-13.3 391.6,4.7 299.9,3.3" fill="#a7a7a7"/>
<ellipse cx="143.1" cy="21.7" rx="43.4" ry="10.0" fill="#383838" transform="rotate(-10 143.1 21.7)"/>
<ellipse cx="216.5" cy="11.7" rx="30.0" ry="11.3" fill="#a7a7a7"/>
<ellipse cx="216.5" cy="12.7" rx="18.7" ry="7.7" fill="#c7c7c7"/>
<ellipse cx="276.5" cy="21.7" rx="25.3" ry="15.0" fill="#282828"/>
<ellipse cx="278.2" cy="25.0" rx="10.0" ry="6.7" fill="#000000"/>
<ellipse cx="426.6" cy="40.0" rx="30.7" ry="27.3" fill="#282828" transform="rotate(30 426.6 40.0)"/>
<ellipse cx="389.9" cy="51.7" rx="20.0" ry="8.7" fill="#000000" transform="rotate(40 389.9 51.7)"/>
<ellipse cx="400.6" cy="26.7" rx="6.0" ry="7.3" fill="#b7b7b7"/>
<ellipse cx="421.6" cy="56.7" rx="10.0" ry="8.3" fill="#a7a7a7"/>
<ellipse cx="483.3" cy="193.5" rx="40.7" ry="60.7" fill="#383838"/>
<ellipse cx="439.9" cy="143.4" rx="34.0" ry="30.7" fill="#282828" transform="rotate(20 439.9 143.4)"/>
<ellipse cx="426.6" cy="96.7" rx="50.0" ry="31.7" fill="#181818" transform="rotate(-20 426.6 96.7)"/>
<polygon points="376.6,110.1 386.6,80.1 403.2,63.4 423.3,63.4 443.3,76.7 436.6,93.4 416.6,103.4 396.6,113.4 383.2,120.1" fill="#000000"/>
<ellipse cx="363.2" cy="118.4" rx="12.7" ry="9.3" fill="#000000"/>
<ellipse cx="386.6" cy="135.1" rx="20.0" ry="8.3" fill="#181818" transform="rotate(15 386.6 135.1)"/>
<ellipse cx="393.2" cy="141.8" rx="11.7" ry="4.7" fill="#000000"/>
<ellipse cx="459.9" cy="223.5" rx="47.4" ry="20.0" fill="#282828" transform="rotate(-20 459.9 223.5)"/>
<ellipse cx="493.3" cy="80.1" rx="16.7" ry="6.0" fill="#686868"/>
<ellipse cx="513.3" cy="86.7" rx="10.0" ry="4.0" fill="#a7a7a7"/>
<ellipse cx="483.3" cy="256.8" rx="40.7" ry="10.0" fill="#c7c7c7"/>
<ellipse cx="416.6" cy="263.5" rx="23.3" ry="13.3" fill="#000000" transform="rotate(20 416.6 263.5)"/>
<ellipse cx="453.3" cy="261.8" rx="8.3" ry="5.0" fill="#ffffff"/>
<ellipse cx="426.6" cy="293.5" rx="50.7" ry="10.0" fill="#c7c7c7" transform="rotate(-5 426.6 293.5)"/>
<ellipse cx="409.9" cy="295.2" rx="26.7" ry="4.7" fill="#d7d7d7"/>
<ellipse cx="376.6" cy="308.5" rx="16.7" ry="5.0" fill="#a7a7a7"/>
<ellipse cx="259.8" cy="103.4" rx="60.7" ry="16.7" fill="#383838"/>
<ellipse cx="173.1" cy="96.7" rx="20.0" ry="14.0" fill="#282828"/>
<ellipse cx="186.4" cy="98.4" rx="7.3" ry="3.7" fill="#000000"/>
<ellipse cx="199.8" cy="68.4" rx="10.0" ry="15.3" fill="#a7a7a7" transform="rotate(-35 199.8 68.4)"/>
<ellipse cx="243.2" cy="61.7" rx="34.0" ry="15.0" fill="#a7a7a7" transform="rotate(-10 243.2 61.7)"/>
<ellipse cx="226.5" cy="70.1" rx="15.0" ry="5.7" fill="#c7c7c7"/>
<ellipse cx="329.9" cy="120.1" rx="13.3" ry="20.7" fill="#a7a7a7" transform="rotate(-30 329.9 120.1)"/>
<ellipse cx="283.2" cy="135.1" rx="87.4" ry="14.0" fill="#979797" transform="rotate(3 283.2 135.1)"/>
<ellipse cx="286.5" cy="135.1" rx="77.4" ry="10.0" fill="#a7a7a7" transform="rotate(3 286.5 135.1)"/>
<ellipse cx="269.8" cy="170.1" rx="77.4" ry="20.0" fill="#878787"/>
<ellipse cx="293.2" cy="166.8" rx="90.7" ry="16.7" fill="#a7a7a7"/>
<polygon points="246.5,161.8 293.2,153.4 359.9,151.8 383.9,160.1 383.9,176.8 343.2,180.1 293.2,178.8 253.2,173.4" fill="#c7c7c7"/>
<ellipse cx="319.9" cy="163.4" rx="37.4" ry="6.7" fill="#d7d7d7"/>
<ellipse cx="329.9" cy="196.1" rx="57.4" ry="4.7" fill="#686868" transform="rotate(12 329.9 196.1)"/>
<ellipse cx="199.8" cy="191.8" rx="23.3" ry="4.7" fill="#a7a7a7"/>
<ellipse cx="193.1" cy="191.8" rx="8.3" ry="2.7" fill="#c7c7c7"/>
<ellipse cx="266.5" cy="220.1" rx="44.0" ry="16.7" fill="#878787" transform="rotate(20 266.5 220.1)"/>
<ellipse cx="326.5" cy="225.1" rx="40.7" ry="20.0" fill="#979797" transform="rotate(20 326.5 225.1)"/>
<ellipse cx="333.2" cy="223.5" rx="27.3" ry="12.7" fill="#a7a7a7" transform="rotate(25 333.2 223.5)"/>
<ellipse cx="223.1" cy="241.8" rx="28.7" ry="16.7" fill="#a7a7a7"/>
<ellipse cx="216.5" cy="243.5" rx="13.3" ry="10.0" fill="#c7c7c7"/>
<polygon points="19.7,170.1 36.4,146.8 63.0,153.4 63.0,173.4 79.7,180.1 106.4,183.5 126.4,191.8 119.7,200.1 93.1,204.1 59.7,202.8 33.0,196.8 19.7,186.8" fill="#a7a7a7"/>
<ellipse cx="53.0" cy="193.5" rx="20.0" ry="6.0" fill="#c7c7c7" transform="rotate(15 53.0 193.5)"/>
<ellipse cx="26.4" cy="180.1" rx="7.3" ry="13.3" fill="#878787"/>
<ellipse cx="69.7" cy="176.8" rx="8.3" ry="10.0" fill="#787878"/>
<ellipse cx="83.1" cy="220.1" rx="60.0" ry="11.7" fill="#383838"/>
<ellipse cx="76.4" cy="243.5" rx="54.0" ry="8.3" fill="#282828"/>
<ellipse cx="326.5" cy="273.5" rx="57.4" ry="13.3" fill="#181818" transform="rotate(12 326.5 273.5)"/>
<ellipse cx="369.9" cy="276.8" rx="13.3" ry="5.0" fill="#000000"/>
<ellipse cx="279.8" cy="260.2" rx="8.3" ry="4.0" fill="#000000"/>
<polygon points="53.0,256.8 93.1,251.8 179.8,253.5 209.8,263.5 246.5,243.5 269.8,253.5 303.2,273.5 293.2,293.5 246.5,296.9 193.1,300.2 139.8,303.5 109.7,286.9 66.4,270.2" fill="#c7c7c7"/>
<polygon points="89.7,263.5 126.4,256.8 179.8,260.2 206.5,270.2 233.1,263.5 243.2,250.8 259.8,256.8 276.5,270.2 296.5,276.8 286.5,286.9 246.5,290.2 193.1,293.5 143.1,296.9 119.7,280.2" fill="#ffffff"/>
<ellipse cx="106.4" cy="295.2" rx="16.7" ry="7.3" fill="#000000"/>
<ellipse cx="293.2" cy="305.2" rx="64.0" ry="3.3" fill="#a7a7a7"/>
<ellipse cx="246.5" cy="305.2" rx="13.3" ry="3.3" fill="#c7c7c7"/>
</g>
<use href="#land"/>
</g>
<use href="#ol"/>
</g>
<text transform="translate(852.3 909.1) scale(1.056 1)" font-size="21.5" text-anchor="middle">CESM3 BLT1850 194 5-84-ORAS5-dsl</text>
<g transform="translate(577.3 914.9)">
<g clip-path="url(#oc)">
<g filter="url(#bl)">
<rect x="-40" y="-40" width="630" height="416" fill="#484848"/>
<ellipse cx="50.4" cy="70.7" rx="7.3" ry="4.7" fill="#c7c7c7"/>
<ellipse cx="30.4" cy="88.4" rx="4.7" ry="6.0" fill="#b7b7b7"/>
<polygon points="149.8,-13.3 253.2,-13.3 246.5,3.3 239.8,16.7 179.8,16.7 173.1,6.7" fill="#d7d7d7"/>
<ellipse cx="208.1" cy="10.7" rx="16.7" ry="7.3" fill="#ffffff"/>
<polygon points="339.9,-13.3 403.2,-13.3 393.2,6.0 346.5,4.0" fill="#c7c7c7"/>
<ellipse cx="143.1" cy="21.7" rx="43.4" ry="10.0" fill="#383838" transform="rotate(-10 143.1 21.7)"/>
<ellipse cx="276.5" cy="18.4" rx="28.7" ry="16.7" fill="#282828"/>
<ellipse cx="278.2" cy="23.4" rx="15.0" ry="9.3" fill="#000000"/>
<ellipse cx="429.9" cy="36.7" rx="27.3" ry="24.0" fill="#282828" transform="rotate(30 429.9 36.7)"/>
<ellipse cx="389.9" cy="55.0" rx="18.3" ry="8.0" fill="#000000" transform="rotate(40 389.9 55.0)"/>
<ellipse cx="400.6" cy="28.4" rx="6.0" ry="6.0" fill="#a7a7a7"/>
<ellipse cx="421.6" cy="56.0" rx="16.7" ry="9.3" fill="#a7a7a7" transform="rotate(20 421.6 56.0)"/>
<ellipse cx="423.3" cy="55.0" rx="8.3" ry="4.0" fill="#c7c7c7" transform="rotate(20 423.3 55.0)"/>
<ellipse cx="459.9" cy="160.1" rx="60.7" ry="54.0" fill="#383838"/>
<ellipse cx="470.0" cy="226.8" rx="43.4" ry="23.3" fill="#383838"/>
<ellipse cx="423.3" cy="96.7" rx="50.7" ry="28.7" fill="#181818" transform="rotate(-20 423.3 96.7)"/>
<polygon points="376.6,106.7 389.9,76.7 413.3,65.1 433.3,76.7 453.3,86.7 439.9,96.7 419.9,93.4 399.9,106.7 383.2,116.7" fill="#000000"/>
<ellipse cx="379.9" cy="130.1" rx="14.0" ry="6.7" fill="#181818"/>
<ellipse cx="361.6" cy="118.4" rx="10.7" ry="8.3" fill="#000000"/>
<ellipse cx="389.9" cy="140.1" rx="18.3" ry="8.0" fill="#000000" transform="rotate(20 389.9 140.1)"/>
<ellipse cx="500.0" cy="81.7" rx="23.3" ry="7.3" fill="#979797" transform="rotate(12 500.0 81.7)"/>
<ellipse cx="518.3" cy="88.4" rx="6.0" ry="4.0" fill="#c7c7c7"/>
<ellipse cx="393.2" cy="263.5" rx="16.7" ry="16.7" fill="#282828"/>
<polygon points="353.2,317.5 376.6,296.9 393.2,281.8 413.3,264.2 459.9,260.2 493.3,256.8 530.7,246.8 530.7,317.5" fill="#ffffff"/>
<ellipse cx="436.6" cy="263.5" rx="37.4" ry="12.7" fill="#c7c7c7"/>
<ellipse cx="443.3" cy="253.5" rx="20.0" ry="5.3" fill="#a7a7a7"/>
<ellipse cx="426.6" cy="293.5" rx="40.7" ry="6.0" fill="#c7c7c7"/>
<ellipse cx="500.0" cy="263.5" rx="16.7" ry="10.0" fill="#c7c7c7"/>
<ellipse cx="276.5" cy="120.1" rx="84.1" ry="20.7" fill="#383838"/>
<ellipse cx="169.8" cy="100.1" rx="16.7" ry="20.7" fill="#282828" transform="rotate(20 169.8 100.1)"/>
<ellipse cx="186.4" cy="98.4" rx="7.3" ry="3.7" fill="#000000"/>
<ellipse cx="229.8" cy="73.4" rx="13.3" ry="6.7" fill="#a7a7a7"/>
<ellipse cx="276.5" cy="70.1" rx="11.7" ry="7.3" fill="#a7a7a7"/>
<ellipse cx="206.5" cy="88.4" rx="15.0" ry="4.7" fill="#b7b7b7"/>
<ellipse cx="253.2" cy="93.4" rx="10.0" ry="3.3" fill="#878787"/>
<ellipse cx="214.8" cy="125.1" rx="10.0" ry="4.0" fill="#878787"/>
<ellipse cx="199.8" cy="141.8" rx="30.0" ry="3.3" fill="#787878"/>
<ellipse cx="279.8" cy="147.4" rx="80.7" ry="4.0" fill="#282828"/>
<ellipse cx="286.5" cy="166.8" rx="87.4" ry="15.3" fill="#686868"/>
<ellipse cx="303.2" cy="163.4" rx="57.4" ry="10.7" fill="#979797" transform="rotate(3 303.2 163.4)"/>
<ellipse cx="309.9" cy="162.8" rx="47.4" ry="7.0" fill="#a7a7a7" transform="rotate(3 309.9 162.8)"/>
<ellipse cx="379.9" cy="166.8" rx="4.0" ry="10.0" fill="#a7a7a7"/>
<ellipse cx="326.5" cy="196.8" rx="60.7" ry="8.3" fill="#282828" transform="rotate(8 326.5 196.8)"/>
<ellipse cx="148.1" cy="160.1" rx="10.0" ry="6.0" fill="#878787"/>
<ellipse cx="109.7" cy="160.1" rx="10.0" ry="6.7" fill="#878787"/>
<polygon points="53.0,200.1 89.7,190.1 109.7,180.1 139.8,180.1 159.8,173.4 179.8,180.1 206.5,183.5 203.1,193.5 173.1,193.5 149.8,196.8 133.1,213.5 126.4,226.8 139.8,236.8 133.1,238.5 119.7,220.1 103.1,206.8 73.0,205.1" fill="#a7a7a7"/>
<ellipse cx="66.4" cy="200.1" rx="11.7" ry="3.3" fill="#c7c7c7"/>
<ellipse cx="309.9" cy="219.5" rx="33.4" ry="2.7" fill="#878787" transform="rotate(10 309.9 219.5)"/>
<ellipse cx="223.1" cy="231.8" rx="25.3" ry="5.3" fill="#a7a7a7" transform="rotate(15 223.1 231.8)"/>
<ellipse cx="243.2" cy="236.8" rx="6.7" ry="8.3" fill="#a7a7a7"/>
<ellipse cx="51.4" cy="133.4" rx="25.0" ry="20.0" fill="#383838"/>
<ellipse cx="86.4" cy="223.5" rx="57.4" ry="11.7" fill="#383838"/>
<ellipse cx="76.4" cy="243.5" rx="54.0" ry="7.3" fill="#282828"/>
<ellipse cx="43.0" cy="241.8" rx="13.3" ry="5.0" fill="#181818"/>
<ellipse cx="293.2" cy="270.2" rx="77.4" ry="22.0" fill="#181818" transform="rotate(8 293.2 270.2)"/>
<polygon points="226.5,256.8 253.2,250.2 276.5,256.8 293.2,270.2 326.5,266.8 359.9,270.2 369.9,280.2 356.6,290.2 309.9,293.5 286.5,280.2 259.8,273.5 233.1,270.2" fill="#000000"/>
<ellipse cx="361.6" cy="260.2" rx="3.3" ry="6.7" fill="#a7a7a7"/>
<polygon points="34.7,251.8 93.1,251.8 153.1,255.2 193.1,261.8 219.8,270.2 223.1,281.8 159.8,277.5 93.1,280.8 49.7,280.8" fill="#d7d7d7"/>
<polygon points="36.4,273.5 76.4,270.2 126.4,273.5 179.8,263.5 213.1,266.8 226.5,280.2 259.8,280.2 286.5,290.2 293.2,317.5 103.1,317.5 66.4,296.9 43.0,281.8" fill="#ffffff"/>
<ellipse cx="276.5" cy="291.9" rx="18.7" ry="11.7" fill="#c7c7c7"/>
<ellipse cx="273.2" cy="293.5" rx="6.7" ry="4.0" fill="#484848"/>
<ellipse cx="103.1" cy="266.8" rx="16.7" ry="4.0" fill="#c7c7c7"/>
</g>
<use href="#land"/>
</g>
<use href="#ol"/>
</g>
<text transform="translate(1413.3 905.4) scale(1.056 1)" font-size="21.5" text-anchor="middle">CESM2 piControl G-ORAS5-dsl</text>
<g transform="translate(1138.3 914.9)">
<g clip-path="url(#oc)">
<g filter="url(#bl)">
<rect x="-40" y="-40" width="630" height="416" fill="#484848"/>
<ellipse cx="50.4" cy="70.7" rx="7.3" ry="4.7" fill="#c7c7c7"/>
<ellipse cx="30.4" cy="88.4" rx="4.7" ry="6.0" fill="#b7b7b7"/>
<ellipse cx="326.5" cy="4.0" rx="71.7" ry="10.0" fill="#b7b7b7"/>
<ellipse cx="276.5" cy="6.7" rx="128.4" ry="12.0" fill="#a7a7a7"/>
<polygon points="149.8,-13.3 403.2,-13.3 393.2,10.0 326.5,7.3 246.5,8.4 233.1,20.0 193.1,20.0 179.8,10.0" fill="#d7d7d7"/>
<ellipse cx="213.1" cy="11.7" rx="26.7" ry="11.7" fill="#d7d7d7"/>
<ellipse cx="276.5" cy="21.7" rx="26.7" ry="14.0" fill="#585858"/>
<ellipse cx="278.2" cy="25.0" rx="15.0" ry="9.0" fill="#282828"/>
<ellipse cx="278.2" cy="26.0" rx="8.3" ry="5.0" fill="#181818"/>
<ellipse cx="149.8" cy="23.4" rx="40.0" ry="8.3" fill="#686868" transform="rotate(-10 149.8 23.4)"/>
<ellipse cx="369.9" cy="40.0" rx="20.0" ry="10.0" fill="#383838" transform="rotate(35 369.9 40.0)"/>
<ellipse cx="393.2" cy="60.0" rx="25.0" ry="5.0" fill="#000000" transform="rotate(42 393.2 60.0)"/>
<ellipse cx="413.3" cy="36.7" rx="16.7" ry="30.0" fill="#a7a7a7" transform="rotate(-25 413.3 36.7)"/>
<ellipse cx="403.2" cy="26.7" rx="7.3" ry="10.0" fill="#c7c7c7" transform="rotate(-20 403.2 26.7)"/>
<ellipse cx="421.6" cy="55.0" rx="7.3" ry="10.0" fill="#c7c7c7"/>
<ellipse cx="449.9" cy="46.7" rx="13.3" ry="10.0" fill="#878787"/>
<ellipse cx="446.6" cy="90.1" rx="27.3" ry="27.3" fill="#383838"/>
<ellipse cx="399.9" cy="83.4" rx="25.3" ry="15.0" fill="#181818" transform="rotate(-10 399.9 83.4)"/>
<ellipse cx="409.9" cy="80.1" rx="13.3" ry="5.7" fill="#000000"/>
<ellipse cx="361.6" cy="118.4" rx="10.7" ry="8.3" fill="#282828"/>
<ellipse cx="389.9" cy="136.8" rx="20.0" ry="10.0" fill="#383838" transform="rotate(15 389.9 136.8)"/>
<ellipse cx="439.9" cy="153.4" rx="33.4" ry="13.3" fill="#585858"/>
<ellipse cx="466.6" cy="133.4" rx="15.0" ry="15.0" fill="#979797"/>
<ellipse cx="493.3" cy="166.8" rx="16.7" ry="13.3" fill="#979797"/>
<ellipse cx="508.3" cy="176.8" rx="13.3" ry="30.0" fill="#a7a7a7" transform="rotate(5 508.3 176.8)"/>
<ellipse cx="483.3" cy="215.1" rx="20.0" ry="26.7" fill="#585858"/>
<ellipse cx="486.6" cy="186.8" rx="30.0" ry="4.7" fill="#787878" transform="rotate(15 486.6 186.8)"/>
<ellipse cx="508.3" cy="215.1" rx="6.7" ry="6.7" fill="#878787"/>
<ellipse cx="413.3" cy="251.8" rx="20.0" ry="13.3" fill="#383838"/>
<polygon points="386.6,280.2 413.3,266.8 459.9,246.8 493.3,240.2 526.7,243.5 530.7,317.5 356.6,317.5 369.9,296.9" fill="#b7b7b7"/>
<ellipse cx="436.6" cy="293.5" rx="54.0" ry="11.7" fill="#c7c7c7" transform="rotate(-15 436.6 293.5)"/>
<ellipse cx="476.6" cy="263.5" rx="26.7" ry="10.0" fill="#c7c7c7" transform="rotate(-20 476.6 263.5)"/>
<ellipse cx="252.5" cy="35.0" rx="6.7" ry="15.0" fill="#b7b7b7"/>
<ellipse cx="239.8" cy="70.1" rx="60.7" ry="18.7" fill="#a7a7a7" transform="rotate(-5 239.8 70.1)"/>
<polygon points="189.8,63.4 213.1,51.7 259.8,46.7 273.2,56.7 253.2,66.7 226.5,76.7 199.8,80.1 189.8,76.7" fill="#c7c7c7"/>
<ellipse cx="276.5" cy="87.4" rx="40.7" ry="8.3" fill="#878787"/>
<ellipse cx="259.8" cy="80.1" rx="57.4" ry="8.0" fill="#a7a7a7" transform="rotate(3 259.8 80.1)"/>
<ellipse cx="173.1" cy="96.7" rx="16.7" ry="10.0" fill="#282828"/>
<ellipse cx="188.1" cy="100.1" rx="9.3" ry="4.0" fill="#000000"/>
<ellipse cx="246.5" cy="110.1" rx="57.4" ry="13.3" fill="#383838"/>
<ellipse cx="213.1" cy="130.8" rx="33.4" ry="4.0" fill="#787878"/>
<ellipse cx="293.2" cy="135.1" rx="77.4" ry="14.0" fill="#878787" transform="rotate(4 293.2 135.1)"/>
<ellipse cx="309.9" cy="135.1" rx="57.4" ry="10.7" fill="#a7a7a7" transform="rotate(5 309.9 135.1)"/>
<ellipse cx="358.2" cy="148.4" rx="26.7" ry="11.7" fill="#979797"/>
<ellipse cx="206.5" cy="166.8" rx="26.7" ry="16.7" fill="#585858"/>
<ellipse cx="279.8" cy="171.8" rx="87.4" ry="20.7" fill="#878787" transform="rotate(3 279.8 171.8)"/>
<ellipse cx="303.2" cy="167.4" rx="84.1" ry="16.0" fill="#a7a7a7" transform="rotate(3 303.2 167.4)"/>
<polygon points="269.8,160.1 309.9,153.4 359.9,153.4 383.9,161.8 383.9,175.1 343.2,180.1 299.9,179.5 273.2,171.8" fill="#c7c7c7"/>
<ellipse cx="283.2" cy="188.5" rx="44.0" ry="4.0" fill="#878787" transform="rotate(5 283.2 188.5)"/>
<ellipse cx="346.5" cy="200.1" rx="37.4" ry="3.3" fill="#686868" transform="rotate(10 346.5 200.1)"/>
<ellipse cx="259.8" cy="233.5" rx="57.4" ry="20.0" fill="#383838" transform="rotate(10 259.8 233.5)"/>
<ellipse cx="346.5" cy="223.5" rx="44.0" ry="26.7" fill="#878787" transform="rotate(-10 346.5 223.5)"/>
<polygon points="319.9,213.5 346.5,206.8 383.2,193.5 393.2,210.1 383.2,233.5 369.9,246.8 346.5,243.5 326.5,230.2" fill="#a7a7a7"/>
<ellipse cx="206.5" cy="235.2" rx="13.3" ry="6.7" fill="#878787"/>
<ellipse cx="66.4" cy="180.1" rx="47.4" ry="27.3" fill="#878787"/>
<polygon points="18.0,180.1 29.7,156.8 59.7,153.4 79.7,160.1 73.0,173.4 59.7,186.8 83.1,193.5 103.1,200.1 86.4,206.8 53.0,203.5 26.4,210.1 18.0,200.1" fill="#a7a7a7"/>
<ellipse cx="64.7" cy="198.5" rx="13.3" ry="4.0" fill="#c7c7c7"/>
<ellipse cx="93.1" cy="170.1" rx="16.7" ry="7.3" fill="#787878"/>
<ellipse cx="86.4" cy="223.5" rx="57.4" ry="11.7" fill="#383838"/>
<ellipse cx="109.7" cy="243.5" rx="77.4" ry="4.0" fill="#878787" transform="rotate(3 109.7 243.5)"/>
<polygon points="36.4,246.8 79.7,241.8 143.1,243.5 179.8,256.8 226.5,266.8 259.8,260.2 326.5,263.5 359.9,246.8 373.2,263.5 369.9,293.5 326.5,317.5 119.7,317.5 76.4,290.2" fill="#b7b7b7"/>
<ellipse cx="136.4" cy="273.5" rx="60.7" ry="13.3" fill="#c7c7c7" transform="rotate(12 136.4 273.5)"/>
<ellipse cx="226.5" cy="285.2" rx="67.4" ry="9.3" fill="#c7c7c7" transform="rotate(5 226.5 285.2)"/>
<ellipse cx="326.5" cy="273.5" rx="20.0" ry="16.7" fill="#d7d7d7"/>
<polygon points="259.8,263.5 293.2,260.2 304.9,273.5 293.2,286.9 269.8,286.9 259.8,276.8" fill="#ffffff"/>
<ellipse cx="246.5" cy="308.5" rx="13.3" ry="6.0" fill="#ffffff"/>
<ellipse cx="266.5" cy="295.2" rx="6.7" ry="4.0" fill="#686868"/>
</g>
<use href="#land"/>
</g>
<use href="#ol"/>
</g>
<text transform="translate(291.3 1288.8) scale(1.056 1)" font-size="21.5" text-anchor="middle">CESM2 piControl F-ORAS5-dsl</text>
<g transform="translate(16.3 1298.3)">
<g clip-path="url(#oc)">
<g filter="url(#bl)">
<rect x="-40" y="-40" width="630" height="416" fill="#484848"/>
<ellipse cx="50.4" cy="70.7" rx="7.3" ry="4.7" fill="#c7c7c7"/>
<ellipse cx="30.4" cy="88.4" rx="4.7" ry="6.0" fill="#b7b7b7"/>
<ellipse cx="326.5" cy="4.0" rx="71.7" ry="10.0" fill="#b7b7b7"/>
<ellipse cx="153.1" cy="20.0" rx="43.4" ry="10.0" fill="#a7a7a7" transform="rotate(-10 153.1 20.0)"/>
<polygon points="149.8,-13.3 403.2,-13.3 393.2,10.7 326.5,8.0 306.5,10.0 246.5,6.7 233.1,18.4 193.1,18.4 179.8,10.0" fill="#d7d7d7"/>
<ellipse cx="213.1" cy="11.7" rx="25.0" ry="10.0" fill="#d7d7d7"/>
<ellipse cx="273.2" cy="18.4" rx="28.4" ry="15.0" fill="#585858"/>
<ellipse cx="276.5" cy="25.0" rx="15.3" ry="9.3" fill="#282828"/>
<ellipse cx="276.5" cy="26.7" rx="8.7" ry="5.0" fill="#181818"/>
<ellipse cx="246.5" cy="27.4" rx="13.3" ry="6.0" fill="#a7a7a7"/>
<ellipse cx="351.5" cy="54.0" rx="12.7" ry="7.3" fill="#a7a7a7"/>
<ellipse cx="373.2" cy="40.0" rx="13.3" ry="8.3" fill="#383838" transform="rotate(35 373.2 40.0)"/>
<ellipse cx="386.6" cy="51.7" rx="16.7" ry="4.7" fill="#181818" transform="rotate(42 386.6 51.7)"/>
<ellipse cx="413.3" cy="36.7" rx="18.3" ry="31.7" fill="#b7b7b7" transform="rotate(-25 413.3 36.7)"/>
<ellipse cx="404.9" cy="23.4" rx="8.3" ry="13.3" fill="#d7d7d7" transform="rotate(-20 404.9 23.4)"/>
<ellipse cx="421.6" cy="58.4" rx="9.3" ry="9.3" fill="#d7d7d7"/>
<ellipse cx="419.9" cy="59.4" rx="2.7" ry="2.7" fill="#ffffff"/>
<ellipse cx="426.6" cy="96.7" rx="47.4" ry="27.3" fill="#383838"/>
<ellipse cx="423.3" cy="88.4" rx="37.4" ry="13.3" fill="#282828" transform="rotate(5 423.3 88.4)"/>
<ellipse cx="398.2" cy="85.1" rx="10.0" ry="4.7" fill="#000000"/>
<ellipse cx="468.3" cy="96.7" rx="6.7" ry="16.7" fill="#a7a7a7"/>
<ellipse cx="500.0" cy="81.7" rx="23.3" ry="7.3" fill="#c7c7c7" transform="rotate(12 500.0 81.7)"/>
<ellipse cx="361.6" cy="118.4" rx="10.7" ry="8.3" fill="#282828"/>
<ellipse cx="389.9" cy="136.8" rx="20.0" ry="10.0" fill="#383838" transform="rotate(15 389.9 136.8)"/>
<ellipse cx="453.3" cy="141.8" rx="37.4" ry="10.0" fill="#979797" transform="rotate(10 453.3 141.8)"/>
<ellipse cx="470.0" cy="131.8" rx="11.7" ry="11.7" fill="#a7a7a7"/>
<ellipse cx="490.0" cy="166.8" rx="16.7" ry="10.0" fill="#979797"/>
<ellipse cx="508.3" cy="176.8" rx="13.3" ry="30.0" fill="#a7a7a7" transform="rotate(5 508.3 176.8)"/>
<ellipse cx="483.3" cy="215.1" rx="20.0" ry="26.7" fill="#585858"/>
<ellipse cx="486.6" cy="186.8" rx="30.0" ry="4.7" fill="#787878" transform="rotate(15 486.6 186.8)"/>
<ellipse cx="508.3" cy="220.1" rx="6.7" ry="20.0" fill="#878787"/>
<ellipse cx="423.3" cy="246.8" rx="20.0" ry="20.0" fill="#383838"/>
<polygon points="376.6,286.9 413.3,273.5 453.3,260.2 493.3,246.8 526.7,243.5 530.7,317.5 356.6,317.5" fill="#b7b7b7"/>
<ellipse cx="426.6" cy="296.9" rx="60.7" ry="10.0" fill="#c7c7c7" transform="rotate(-12 426.6 296.9)"/>
<ellipse cx="369.9" cy="306.9" rx="13.3" ry="8.3" fill="#d7d7d7"/>
<ellipse cx="252.5" cy="35.0" rx="6.7" ry="15.0" fill="#b7b7b7"/>
<polygon points="189.8,63.4 213.1,51.7 259.8,46.7 273.2,56.7 253.2,66.7 226.5,75.1 199.8,80.1 189.8,76.7" fill="#b7b7b7"/>
<ellipse cx="249.8" cy="56.7" rx="10.0" ry="6.7" fill="#c7c7c7"/>
<ellipse cx="256.5" cy="77.4" rx="57.4" ry="5.0" fill="#a7a7a7" transform="rotate(3 256.5 77.4)"/>
<ellipse cx="253.2" cy="106.7" rx="57.4" ry="15.0" fill="#383838"/>
<ellipse cx="189.8" cy="101.7" rx="33.4" ry="10.0" fill="#282828"/>
<ellipse cx="184.8" cy="98.4" rx="8.3" ry="4.0" fill="#000000"/>
<ellipse cx="206.5" cy="141.8" rx="30.0" ry="3.3" fill="#787878"/>
<ellipse cx="276.5" cy="136.8" rx="84.1" ry="6.7" fill="#979797" transform="rotate(2 276.5 136.8)"/>
<ellipse cx="309.9" cy="136.8" rx="44.0" ry="4.7" fill="#a7a7a7" transform="rotate(3 309.9 136.8)"/>
<ellipse cx="358.2" cy="148.4" rx="26.7" ry="11.7" fill="#979797"/>
<ellipse cx="306.5" cy="168.4" rx="80.7" ry="16.0" fill="#a7a7a7" transform="rotate(3 306.5 168.4)"/>
<polygon points="283.2,162.8 309.9,156.8 359.9,155.1 383.9,162.8 383.9,175.1 343.2,179.5 303.2,178.5 286.5,171.8" fill="#c7c7c7"/>
<ellipse cx="293.2" cy="188.5" rx="37.4" ry="4.0" fill="#878787" transform="rotate(5 293.2 188.5)"/>
<ellipse cx="346.5" cy="200.1" rx="37.4" ry="3.3" fill="#686868" transform="rotate(10 346.5 200.1)"/>
<polygon points="326.5,220.1 353.2,210.1 383.2,196.8 393.2,213.5 383.2,236.8 366.6,246.8 343.2,240.2" fill="#a7a7a7"/>
<ellipse cx="233.1" cy="221.8" rx="37.4" ry="5.0" fill="#a7a7a7" transform="rotate(-5 233.1 221.8)"/>
<ellipse cx="286.5" cy="220.1" rx="33.4" ry="4.7" fill="#878787" transform="rotate(8 286.5 220.1)"/>
<ellipse cx="209.8" cy="240.2" rx="16.7" ry="8.3" fill="#383838"/>
<ellipse cx="276.5" cy="243.5" rx="37.4" ry="13.3" fill="#383838" transform="rotate(10 276.5 243.5)"/>
<polygon points="18.0,180.1 29.7,153.4 46.4,136.8 59.7,123.4 66.4,136.8 53.0,153.4 79.7,166.8 103.1,176.8 126.4,186.8 119.7,196.8 86.4,200.1 59.7,206.8 26.4,210.1 18.0,200.1" fill="#a7a7a7"/>
<ellipse cx="49.7" cy="198.5" rx="20.0" ry="5.0" fill="#c7c7c7" transform="rotate(10 49.7 198.5)"/>
<ellipse cx="36.4" cy="160.1" rx="10.0" ry="10.0" fill="#c7c7c7"/>
<ellipse cx="86.4" cy="170.1" rx="16.7" ry="6.7" fill="#878787"/>
<ellipse cx="86.4" cy="223.5" rx="57.4" ry="11.7" fill="#383838"/>
<ellipse cx="109.7" cy="246.8" rx="66.7" ry="5.0" fill="#787878" transform="rotate(3 109.7 246.8)"/>
<polygon points="36.4,256.8 79.7,250.2 143.1,256.8 179.8,266.8 226.5,270.2 259.8,260.2 326.5,260.2 359.9,246.8 373.2,263.5 369.9,293.5 326.5,317.5 119.7,317.5 76.4,290.2" fill="#b7b7b7"/>
<ellipse cx="126.4" cy="280.2" rx="50.7" ry="10.0" fill="#c7c7c7" transform="rotate(15 126.4 280.2)"/>
<ellipse cx="226.5" cy="290.2" rx="67.4" ry="8.7" fill="#c7c7c7" transform="rotate(5 226.5 290.2)"/>
<ellipse cx="359.9" cy="263.5" rx="8.3" ry="8.3" fill="#d7d7d7"/>
<polygon points="259.8,263.5 293.2,261.8 308.2,273.5 293.2,288.5 269.8,286.9 258.2,276.8" fill="#ffffff"/>
<ellipse cx="246.5" cy="308.5" rx="13.3" ry="6.0" fill="#ffffff"/>
</g>
<use href="#land"/>
</g>
<use href="#ol"/>
</g>
<text transform="translate(852.3 1288.8) scale(1.056 1)" font-size="21.5" text-anchor="middle">CESM2 piControl E-ORAS5-dsl</text>
<g transform="translate(577.3 1298.3)">
<g clip-path="url(#oc)">
<g filter="url(#bl)">
<rect x="-40" y="-40" width="630" height="416" fill="#484848"/>
<ellipse cx="50.4" cy="70.7" rx="7.3" ry="4.7" fill="#c7c7c7"/>
<ellipse cx="30.4" cy="88.4" rx="4.7" ry="6.0" fill="#b7b7b7"/>
<ellipse cx="326.5" cy="4.0" rx="71.7" ry="10.0" fill="#b7b7b7"/>
<ellipse cx="153.1" cy="20.0" rx="43.4" ry="10.0" fill="#979797" transform="rotate(-10 153.1 20.0)"/>
<polygon points="149.8,-13.3 403.2,-13.3 393.2,10.7 326.5,8.0 306.5,10.0 246.5,6.7 233.1,18.4 193.1,18.4 179.8,10.0" fill="#d7d7d7"/>
<ellipse cx="213.1" cy="13.4" rx="23.3" ry="10.0" fill="#d7d7d7"/>
<ellipse cx="273.2" cy="18.4" rx="28.4" ry="15.0" fill="#585858"/>
<ellipse cx="276.5" cy="25.0" rx="15.3" ry="9.3" fill="#282828"/>
<ellipse cx="276.5" cy="26.7" rx="8.7" ry="5.0" fill="#181818"/>
<ellipse cx="246.5" cy="27.4" rx="13.3" ry="6.0" fill="#a7a7a7"/>
<ellipse cx="351.5" cy="54.0" rx="12.7" ry="7.3" fill="#979797"/>
<ellipse cx="373.2" cy="40.0" rx="13.3" ry="8.3" fill="#383838" transform="rotate(35 373.2 40.0)"/>
<ellipse cx="388.2" cy="55.0" rx="15.0" ry="4.0" fill="#181818" transform="rotate(42 388.2 55.0)"/>
<ellipse cx="446.6" cy="36.7" rx="16.7" ry="20.0" fill="#979797" transform="rotate(30 446.6 36.7)"/>
<ellipse cx="413.3" cy="36.7" rx="18.3" ry="31.7" fill="#b7b7b7" transform="rotate(-25 413.3 36.7)"/>
<ellipse cx="404.9" cy="23.4" rx="8.3" ry="13.3" fill="#c7c7c7" transform="rotate(-20 404.9 23.4)"/>
<ellipse cx="419.9" cy="58.4" rx="8.3" ry="8.3" fill="#d7d7d7"/>
<ellipse cx="418.3" cy="59.4" rx="2.7" ry="2.7" fill="#ffffff"/>
<ellipse cx="426.6" cy="96.7" rx="47.4" ry="27.3" fill="#383838"/>
<ellipse cx="406.6" cy="86.7" rx="23.3" ry="11.7" fill="#282828" transform="rotate(-10 406.6 86.7)"/>
<ellipse cx="398.2" cy="83.4" rx="7.3" ry="4.0" fill="#000000"/>
<ellipse cx="439.9" cy="95.1" rx="13.3" ry="8.3" fill="#282828"/>
<ellipse cx="468.3" cy="96.7" rx="6.7" ry="16.7" fill="#a7a7a7"/>
<ellipse cx="500.0" cy="81.7" rx="23.3" ry="7.3" fill="#b7b7b7" transform="rotate(12 500.0 81.7)"/>
<ellipse cx="361.6" cy="118.4" rx="10.7" ry="8.3" fill="#282828"/>
<ellipse cx="389.9" cy="136.8" rx="20.0" ry="10.0" fill="#383838" transform="rotate(15 389.9 136.8)"/>
<ellipse cx="453.3" cy="143.4" rx="37.4" ry="10.0" fill="#979797" transform="rotate(10 453.3 143.4)"/>
<ellipse cx="470.0" cy="133.4" rx="11.7" ry="10.0" fill="#a7a7a7"/>
<ellipse cx="490.0" cy="166.8" rx="16.7" ry="10.0" fill="#979797"/>
<ellipse cx="508.3" cy="176.8" rx="13.3" ry="30.0" fill="#a7a7a7" transform="rotate(5 508.3 176.8)"/>
<ellipse cx="483.3" cy="215.1" rx="20.0" ry="26.7" fill="#585858"/>
<ellipse cx="486.6" cy="186.8" rx="30.0" ry="4.7" fill="#787878" transform="rotate(15 486.6 186.8)"/>
<ellipse cx="508.3" cy="220.1" rx="6.7" ry="20.0" fill="#878787"/>
<ellipse cx="423.3" cy="246.8" rx="20.0" ry="16.7" fill="#383838"/>
<polygon points="376.6,286.9 413.3,273.5 453.3,256.8 493.3,243.5 526.7,243.5 530.7,317.5 356.6,317.5" fill="#b7b7b7"/>
<ellipse cx="443.3" cy="290.2" rx="47.4" ry="8.7" fill="#c7c7c7" transform="rotate(-20 443.3 290.2)"/>
<ellipse cx="369.9" cy="308.5" rx="13.3" ry="7.3" fill="#d7d7d7"/>
<ellipse cx="252.5" cy="35.0" rx="6.7" ry="15.0" fill="#b7b7b7"/>
<polygon points="189.8,63.4 213.1,51.7 259.8,46.7 273.2,56.7 253.2,66.7 226.5,75.1 199.8,80.1 189.8,76.7" fill="#a7a7a7"/>
<ellipse cx="249.8" cy="56.7" rx="10.0" ry="6.7" fill="#b7b7b7"/>
<ellipse cx="256.5" cy="77.4" rx="57.4" ry="5.0" fill="#979797" transform="rotate(3 256.5 77.4)"/>
<ellipse cx="299.9" cy="71.7" rx="11.7" ry="7.3" fill="#a7a7a7"/>
<ellipse cx="259.8" cy="103.4" rx="57.4" ry="16.7" fill="#383838"/>
<ellipse cx="189.8" cy="101.7" rx="26.7" ry="8.3" fill="#282828"/>
<ellipse cx="184.8" cy="98.4" rx="7.3" ry="3.3" fill="#000000"/>
<ellipse cx="176.4" cy="115.1" rx="15.0" ry="4.0" fill="#979797"/>
<ellipse cx="226.5" cy="143.4" rx="40.0" ry="4.0" fill="#878787"/>
<ellipse cx="303.2" cy="138.4" rx="54.0" ry="9.3" fill="#a7a7a7" transform="rotate(3 303.2 138.4)"/>
<ellipse cx="339.9" cy="148.4" rx="13.3" ry="4.0" fill="#383838"/>
<ellipse cx="358.2" cy="148.4" rx="26.7" ry="11.7" fill="#979797"/>
<ellipse cx="303.2" cy="168.4" rx="77.4" ry="17.3" fill="#a7a7a7" transform="rotate(3 303.2 168.4)"/>
<polygon points="266.5,162.8 293.2,155.1 359.9,155.1 383.9,162.8 383.9,175.1 343.2,179.5 293.2,178.5 269.8,171.8" fill="#c7c7c7"/>
<ellipse cx="293.2" cy="189.5" rx="30.0" ry="3.3" fill="#878787" transform="rotate(5 293.2 189.5)"/>
<ellipse cx="346.5" cy="201.8" rx="37.4" ry="3.3" fill="#686868" transform="rotate(10 346.5 201.8)"/>
<polygon points="319.9,213.5 346.5,203.5 383.2,196.8 393.2,213.5 383.2,236.8 366.6,246.8 343.2,243.5 329.9,230.2" fill="#a7a7a7"/>
<ellipse cx="239.8" cy="220.1" rx="54.0" ry="16.7" fill="#383838" transform="rotate(10 239.8 220.1)"/>
<ellipse cx="206.5" cy="213.5" rx="16.7" ry="10.0" fill="#282828"/>
<polygon points="18.0,180.1 29.7,153.4 46.4,136.8 59.7,123.4 66.4,136.8 53.0,153.4 79.7,166.8 103.1,176.8 126.4,186.8 119.7,196.8 86.4,200.1 59.7,206.8 26.4,210.1 18.0,200.1" fill="#a7a7a7"/>
<polygon points="29.7,180.1 59.7,176.8 93.1,183.5 119.7,193.5 93.1,200.1 59.7,203.5 36.4,196.8" fill="#d7d7d7"/>
<ellipse cx="86.4" cy="166.8" rx="16.7" ry="6.7" fill="#878787"/>
<ellipse cx="86.4" cy="223.5" rx="57.4" ry="11.7" fill="#383838"/>
<ellipse cx="119.7" cy="260.2" rx="80.7" ry="13.3" fill="#979797" transform="rotate(8 119.7 260.2)"/>
<ellipse cx="143.1" cy="263.5" rx="40.7" ry="8.3" fill="#b7b7b7" transform="rotate(10 143.1 263.5)"/>
<ellipse cx="159.8" cy="290.2" rx="84.1" ry="10.0" fill="#c7c7c7" transform="rotate(5 159.8 290.2)"/>
<polygon points="313.2,266.8 326.5,246.8 359.9,243.5 373.2,263.5 369.9,293.5 326.5,317.5 226.5,317.5 239.8,293.5 293.2,293.5" fill="#b7b7b7"/>
<ellipse cx="283.2" cy="280.2" rx="37.4" ry="16.7" fill="#d7d7d7"/>
<ellipse cx="326.5" cy="273.5" rx="13.3" ry="13.3" fill="#d7d7d7"/>
<ellipse cx="226.5" cy="305.2" rx="133.4" ry="6.0" fill="#c7c7c7"/>
<polygon points="259.8,263.5 293.2,261.8 308.2,273.5 293.2,288.5 269.8,286.9 258.2,276.8" fill="#ffffff"/>
<ellipse cx="246.5" cy="308.5" rx="13.3" ry="5.0" fill="#ffffff"/>
</g>
<use href="#land"/>
</g>
<use href="#ol"/>
</g>
<text transform="translate(1413.3 1288.8) scale(1.056 1)" font-size="21.5" text-anchor="middle">CESM2 piControl D-ORAS5-dsl</text>
<g transform="translate(1138.3 1298.3)">
<g clip-path="url(#oc)">
<g filter="url(#bl)">
<rect x="-40" y="-40" width="630" height="416" fill="#484848"/>
<ellipse cx="50.4" cy="70.7" rx="7.3" ry="4.7" fill="#c7c7c7"/>
<ellipse cx="30.4" cy="88.4" rx="4.7" ry="6.0" fill="#b7b7b7"/>
<ellipse cx="326.5" cy="4.0" rx="71.7" ry="10.0" fill="#b7b7b7"/>
<ellipse cx="149.8" cy="23.4" rx="40.0" ry="8.3" fill="#686868" transform="rotate(-10 149.8 23.4)"/>
<polygon points="149.8,-13.3 403.2,-13.3 393.2,10.7 326.5,8.0 306.5,10.0 246.5,6.7 233.1,18.4 193.1,18.4 179.8,10.0" fill="#d7d7d7"/>
<ellipse cx="213.1" cy="13.4" rx="25.0" ry="10.7" fill="#d7d7d7"/>
<ellipse cx="209.8" cy="14.0" rx="12.7" ry="4.0" fill="#ffffff"/>
<ellipse cx="273.2" cy="18.4" rx="28.4" ry="15.0" fill="#585858"/>
<ellipse cx="276.5" cy="25.0" rx="15.3" ry="9.3" fill="#282828"/>
<ellipse cx="276.5" cy="26.7" rx="8.7" ry="5.0" fill="#181818"/>
<ellipse cx="246.5" cy="27.4" rx="13.3" ry="6.0" fill="#a7a7a7"/>
<ellipse cx="351.5" cy="54.0" rx="12.7" ry="7.3" fill="#979797"/>
<ellipse cx="373.2" cy="40.0" rx="13.3" ry="8.3" fill="#383838" transform="rotate(35 373.2 40.0)"/>
<ellipse cx="388.2" cy="51.7" rx="16.7" ry="4.7" fill="#181818" transform="rotate(42 388.2 51.7)"/>
<ellipse cx="409.9" cy="30.0" rx="13.3" ry="26.7" fill="#a7a7a7" transform="rotate(-25 409.9 30.0)"/>
<ellipse cx="403.2" cy="25.0" rx="6.0" ry="11.7" fill="#c7c7c7" transform="rotate(-20 403.2 25.0)"/>
<ellipse cx="419.9" cy="55.0" rx="8.3" ry="8.3" fill="#d7d7d7"/>
<ellipse cx="419.3" cy="59.4" rx="2.7" ry="2.7" fill="#ffffff"/>
<ellipse cx="426.6" cy="96.7" rx="47.4" ry="27.3" fill="#383838"/>
<ellipse cx="423.3" cy="86.7" rx="37.4" ry="11.7" fill="#181818" transform="rotate(5 423.3 86.7)"/>
<ellipse cx="398.2" cy="85.1" rx="10.0" ry="4.7" fill="#000000"/>
<ellipse cx="468.3" cy="96.7" rx="6.7" ry="16.7" fill="#979797"/>
<ellipse cx="500.0" cy="81.7" rx="23.3" ry="7.3" fill="#b7b7b7" transform="rotate(12 500.0 81.7)"/>
<ellipse cx="361.6" cy="118.4" rx="10.7" ry="8.3" fill="#282828"/>
<ellipse cx="389.9" cy="136.8" rx="20.0" ry="10.0" fill="#383838" transform="rotate(15 389.9 136.8)"/>
<ellipse cx="453.3" cy="143.4" rx="37.4" ry="8.3" fill="#878787" transform="rotate(10 453.3 143.4)"/>
<ellipse cx="470.0" cy="133.4" rx="8.3" ry="8.3" fill="#a7a7a7"/>
<ellipse cx="490.0" cy="166.8" rx="16.7" ry="10.0" fill="#979797"/>
<ellipse cx="508.3" cy="180.1" rx="13.3" ry="26.7" fill="#a7a7a7" transform="rotate(5 508.3 180.1)"/>
<ellipse cx="483.3" cy="215.1" rx="20.0" ry="26.7" fill="#585858"/>
<ellipse cx="486.6" cy="186.8" rx="30.0" ry="4.7" fill="#787878" transform="rotate(15 486.6 186.8)"/>
<ellipse cx="508.3" cy="220.1" rx="6.7" ry="20.0" fill="#878787"/>
<ellipse cx="423.3" cy="246.8" rx="20.0" ry="16.7" fill="#383838"/>
<polygon points="376.6,286.9 413.3,273.5 453.3,256.8 493.3,243.5 526.7,243.5 530.7,317.5 356.6,317.5" fill="#b7b7b7"/>
<ellipse cx="426.6" cy="293.5" rx="54.0" ry="8.0" fill="#c7c7c7" transform="rotate(-10 426.6 293.5)"/>
<ellipse cx="366.6" cy="310.2" rx="10.0" ry="5.0" fill="#ffffff"/>
<ellipse cx="252.5" cy="35.0" rx="6.7" ry="15.0" fill="#b7b7b7"/>
<polygon points="186.4,90.1 199.8,66.7 226.5,56.7 259.8,46.7 273.2,56.7 253.2,70.1 226.5,80.1 206.5,93.4" fill="#a7a7a7"/>
<ellipse cx="226.5" cy="73.4" rx="13.3" ry="6.0" fill="#c7c7c7" transform="rotate(-20 226.5 73.4)"/>
<ellipse cx="259.8" cy="83.4" rx="40.7" ry="5.0" fill="#979797" transform="rotate(3 259.8 83.4)"/>
<ellipse cx="259.8" cy="106.7" rx="57.4" ry="15.0" fill="#383838"/>
<ellipse cx="179.8" cy="103.4" rx="16.7" ry="6.7" fill="#282828"/>
<ellipse cx="184.8" cy="98.4" rx="7.3" ry="3.3" fill="#000000"/>
<ellipse cx="246.5" cy="140.1" rx="94.1" ry="6.0" fill="#979797" transform="rotate(2 246.5 140.1)"/>
<ellipse cx="309.9" cy="136.8" rx="47.4" ry="6.0" fill="#a7a7a7" transform="rotate(3 309.9 136.8)"/>
<ellipse cx="358.2" cy="148.4" rx="26.7" ry="11.7" fill="#979797"/>
<ellipse cx="306.5" cy="168.4" rx="80.7" ry="16.7" fill="#a7a7a7" transform="rotate(3 306.5 168.4)"/>
<polygon points="256.5,162.8 293.2,155.1 359.9,155.1 383.9,162.8 383.9,175.1 343.2,179.5 293.2,178.5 259.8,171.8" fill="#c7c7c7"/>
<ellipse cx="286.5" cy="189.5" rx="37.4" ry="3.3" fill="#878787" transform="rotate(5 286.5 189.5)"/>
<ellipse cx="346.5" cy="201.8" rx="37.4" ry="3.3" fill="#686868" transform="rotate(10 346.5 201.8)"/>
<polygon points="313.2,220.1 346.5,206.8 383.2,196.8 393.2,213.5 383.2,240.2 366.6,256.8 339.9,253.5 319.9,240.2" fill="#a7a7a7"/>
<ellipse cx="223.1" cy="228.5" rx="25.3" ry="7.3" fill="#a7a7a7" transform="rotate(-5 223.1 228.5)"/>
<ellipse cx="233.1" cy="210.1" rx="47.4" ry="8.3" fill="#383838" transform="rotate(5 233.1 210.1)"/>
<ellipse cx="279.8" cy="243.5" rx="33.4" ry="13.3" fill="#585858"/>
<polygon points="18.0,180.1 29.7,153.4 46.4,136.8 59.7,123.4 66.4,136.8 53.0,153.4 79.7,166.8 103.1,176.8 126.4,186.8 119.7,196.8 86.4,200.1 59.7,206.8 26.4,210.1 18.0,200.1" fill="#a7a7a7"/>
<ellipse cx="69.7" cy="193.5" rx="30.0" ry="5.0" fill="#d7d7d7" transform="rotate(5 69.7 193.5)"/>
<ellipse cx="43.0" cy="183.5" rx="16.7" ry="10.0" fill="#c7c7c7"/>
<ellipse cx="89.7" cy="170.1" rx="20.0" ry="7.3" fill="#787878"/>
<ellipse cx="86.4" cy="223.5" rx="57.4" ry="11.7" fill="#383838"/>
<ellipse cx="126.4" cy="275.2" rx="90.1" ry="20.7" fill="#a7a7a7" transform="rotate(8 126.4 275.2)"/>
<ellipse cx="119.7" cy="256.8" rx="80.7" ry="11.7" fill="#979797" transform="rotate(8 119.7 256.8)"/>
<ellipse cx="153.1" cy="270.2" rx="67.4" ry="13.3" fill="#c7c7c7" transform="rotate(10 153.1 270.2)"/>
<ellipse cx="159.8" cy="291.9" rx="84.1" ry="9.3" fill="#b7b7b7" transform="rotate(5 159.8 291.9)"/>
<ellipse cx="143.1" cy="296.9" rx="50.0" ry="4.0" fill="#d7d7d7" transform="rotate(5 143.1 296.9)"/>
<polygon points="313.2,266.8 326.5,246.8 359.9,243.5 373.2,263.5 369.9,293.5 326.5,317.5 226.5,317.5 239.8,293.5 293.2,293.5" fill="#b7b7b7"/>
<ellipse cx="283.2" cy="280.2" rx="37.4" ry="16.7" fill="#d7d7d7"/>
<ellipse cx="326.5" cy="273.5" rx="13.3" ry="13.3" fill="#d7d7d7"/>
<ellipse cx="226.5" cy="305.2" rx="133.4" ry="6.0" fill="#c7c7c7"/>
<polygon points="259.8,263.5 293.2,261.8 308.2,273.5 293.2,288.5 269.8,286.9 258.2,276.8" fill="#ffffff"/>
<ellipse cx="246.5" cy="308.5" rx="13.3" ry="5.0" fill="#ffffff"/>
</g>
<use href="#land"/>
</g>
<use href="#ol"/>
</g>
<text transform="translate(291.3 1672.3) scale(1.056 1)" font-size="21.5" text-anchor="middle">CESM2 piControl C-ORAS5-dsl</text>
<g transform="translate(16.3 1681.5)">
<g clip-path="url(#oc)">
<g filter="url(#bl)">
<rect x="-40" y="-40" width="630" height="416" fill="#484848"/>
<ellipse cx="50.4" cy="70.7" rx="7.3" ry="4.7" fill="#c7c7c7"/>
<ellipse cx="30.4" cy="88.4" rx="4.7" ry="6.0" fill="#b7b7b7"/>
<ellipse cx="326.5" cy="4.0" rx="71.7" ry="10.0" fill="#b7b7b7"/>
<ellipse cx="149.8" cy="25.0" rx="40.0" ry="8.3" fill="#686868" transform="rotate(-10 149.8 25.0)"/>
<ellipse cx="279.8" cy="13.4" rx="54.0" ry="8.3" fill="#b7b7b7"/>
<polygon points="149.8,-13.3 403.2,-13.3 393.2,12.0 326.5,9.4 293.2,13.4 253.2,13.4 239.8,21.7 193.1,21.7 179.8,10.0" fill="#e7e7e7"/>
<ellipse cx="176.4" cy="0.7" rx="16.7" ry="2.7" fill="#ffffff"/>
<ellipse cx="386.6" cy="1.7" rx="11.7" ry="3.3" fill="#ffffff"/>
<ellipse cx="226.5" cy="30.0" rx="20.0" ry="4.0" fill="#686868"/>
<ellipse cx="274.8" cy="26.7" rx="20.0" ry="9.3" fill="#585858"/>
<ellipse cx="276.5" cy="28.4" rx="10.7" ry="6.0" fill="#181818"/>
<ellipse cx="276.5" cy="29.0" rx="6.0" ry="3.7" fill="#000000"/>
<ellipse cx="351.5" cy="54.0" rx="12.7" ry="7.3" fill="#979797"/>
<ellipse cx="373.2" cy="40.0" rx="13.3" ry="8.3" fill="#383838" transform="rotate(35 373.2 40.0)"/>
<ellipse cx="388.2" cy="51.7" rx="16.7" ry="4.7" fill="#181818" transform="rotate(42 388.2 51.7)"/>
<ellipse cx="446.6" cy="43.4" rx="15.0" ry="20.0" fill="#979797" transform="rotate(30 446.6 43.4)"/>
<ellipse cx="411.6" cy="36.7" rx="16.7" ry="30.0" fill="#b7b7b7" transform="rotate(-25 411.6 36.7)"/>
<ellipse cx="401.6" cy="20.0" rx="7.3" ry="11.7" fill="#d7d7d7" transform="rotate(-20 401.6 20.0)"/>
<ellipse cx="419.9" cy="56.7" rx="10.0" ry="9.3" fill="#d7d7d7"/>
<ellipse cx="426.6" cy="96.7" rx="47.4" ry="27.3" fill="#383838"/>
<ellipse cx="423.3" cy="90.1" rx="37.4" ry="13.3" fill="#282828" transform="rotate(5 423.3 90.1)"/>
<ellipse cx="404.9" cy="86.7" rx="16.7" ry="8.3" fill="#000000"/>
<ellipse cx="466.6" cy="100.1" rx="10.0" ry="16.7" fill="#a7a7a7"/>
<ellipse cx="500.0" cy="81.7" rx="23.3" ry="7.3" fill="#c7c7c7" transform="rotate(12 500.0 81.7)"/>
<ellipse cx="361.6" cy="118.4" rx="10.7" ry="8.3" fill="#282828"/>
<ellipse cx="389.9" cy="136.8" rx="20.0" ry="10.0" fill="#282828" transform="rotate(15 389.9 136.8)"/>
<ellipse cx="453.3" cy="143.4" rx="37.4" ry="7.3" fill="#878787" transform="rotate(10 453.3 143.4)"/>
<ellipse cx="470.0" cy="130.1" rx="10.0" ry="11.7" fill="#a7a7a7"/>
<ellipse cx="508.3" cy="180.1" rx="11.7" ry="26.7" fill="#979797" transform="rotate(5 508.3 180.1)"/>
<ellipse cx="483.3" cy="215.1" rx="20.0" ry="26.7" fill="#585858"/>
<ellipse cx="486.6" cy="186.8" rx="30.0" ry="4.7" fill="#787878" transform="rotate(15 486.6 186.8)"/>
<ellipse cx="508.3" cy="220.1" rx="6.7" ry="20.0" fill="#878787"/>
<ellipse cx="423.3" cy="246.8" rx="20.0" ry="16.7" fill="#383838"/>
<polygon points="376.6,286.9 413.3,273.5 453.3,256.8 493.3,243.5 526.7,243.5 530.7,317.5 356.6,317.5" fill="#b7b7b7"/>
<ellipse cx="409.9" cy="300.2" rx="47.4" ry="8.0" fill="#c7c7c7" transform="rotate(-10 409.9 300.2)"/>
<ellipse cx="466.6" cy="273.5" rx="23.3" ry="6.7" fill="#d7d7d7" transform="rotate(-25 466.6 273.5)"/>
<ellipse cx="252.5" cy="35.0" rx="6.7" ry="15.0" fill="#b7b7b7"/>
<polygon points="189.8,63.4 213.1,51.7 259.8,46.7 276.5,56.7 259.8,70.1 226.5,76.7 199.8,80.1 189.8,76.7" fill="#b7b7b7"/>
<ellipse cx="239.8" cy="63.4" rx="23.3" ry="9.3" fill="#c7c7c7" transform="rotate(-10 239.8 63.4)"/>
<ellipse cx="299.9" cy="70.1" rx="11.7" ry="15.0" fill="#a7a7a7" transform="rotate(-30 299.9 70.1)"/>
<ellipse cx="259.8" cy="80.1" rx="50.7" ry="3.3" fill="#878787" transform="rotate(3 259.8 80.1)"/>
<ellipse cx="246.5" cy="96.7" rx="67.4" ry="13.3" fill="#383838"/>
<ellipse cx="173.1" cy="103.4" rx="20.0" ry="10.0" fill="#282828"/>
<ellipse cx="184.8" cy="98.4" rx="7.3" ry="3.3" fill="#000000"/>
<ellipse cx="213.1" cy="143.4" rx="33.4" ry="2.7" fill="#878787"/>
<ellipse cx="239.8" cy="135.1" rx="60.7" ry="5.0" fill="#979797" transform="rotate(2 239.8 135.1)"/>
<ellipse cx="309.9" cy="136.8" rx="50.7" ry="8.3" fill="#a7a7a7" transform="rotate(5 309.9 136.8)"/>
<ellipse cx="358.2" cy="148.4" rx="26.7" ry="11.7" fill="#979797"/>
<ellipse cx="306.5" cy="168.4" rx="84.1" ry="16.7" fill="#a7a7a7" transform="rotate(3 306.5 168.4)"/>
<polygon points="259.8,163.4 293.2,155.1 359.9,155.1 383.9,162.8 383.9,175.1 343.2,179.5 293.2,178.5 276.5,171.8" fill="#c7c7c7"/>
<ellipse cx="313.2" cy="166.8" rx="20.0" ry="5.0" fill="#d7d7d7"/>
<ellipse cx="158.1" cy="156.8" rx="8.3" ry="3.3" fill="#979797"/>
<ellipse cx="286.5" cy="188.5" rx="37.4" ry="3.3" fill="#878787" transform="rotate(5 286.5 188.5)"/>
<ellipse cx="346.5" cy="201.8" rx="37.4" ry="3.3" fill="#686868" transform="rotate(10 346.5 201.8)"/>
<polygon points="316.5,220.1 346.5,210.1 383.2,196.8 393.2,213.5 383.2,240.2 359.9,253.5 339.9,246.8 323.2,233.5" fill="#a7a7a7"/>
<ellipse cx="223.1" cy="228.5" rx="25.3" ry="4.7" fill="#979797" transform="rotate(-5 223.1 228.5)"/>
<ellipse cx="233.1" cy="210.1" rx="47.4" ry="8.3" fill="#383838" transform="rotate(5 233.1 210.1)"/>
<polygon points="18.0,180.1 29.7,153.4 59.7,146.8 79.7,160.1 103.1,176.8 133.1,186.8 143.1,200.1 119.7,210.1 86.4,203.5 59.7,206.8 26.4,210.1 18.0,200.1" fill="#979797"/>
<ellipse cx="89.7" cy="193.5" rx="47.4" ry="11.7" fill="#a7a7a7" transform="rotate(8 89.7 193.5)"/>
<ellipse cx="63.0" cy="200.1" rx="13.3" ry="3.3" fill="#d7d7d7"/>
<ellipse cx="29.7" cy="166.8" rx="11.7" ry="16.7" fill="#a7a7a7"/>
<ellipse cx="76.4" cy="178.5" rx="23.3" ry="6.0" fill="#787878"/>
<ellipse cx="86.4" cy="223.5" rx="57.4" ry="11.7" fill="#383838"/>
<ellipse cx="119.7" cy="256.8" rx="80.7" ry="11.7" fill="#979797" transform="rotate(8 119.7 256.8)"/>
<ellipse cx="146.4" cy="256.8" rx="47.4" ry="8.3" fill="#c7c7c7" transform="rotate(8 146.4 256.8)"/>
<ellipse cx="159.8" cy="290.2" rx="84.1" ry="11.7" fill="#b7b7b7" transform="rotate(5 159.8 290.2)"/>
<ellipse cx="143.1" cy="296.2" rx="50.0" ry="4.3" fill="#d7d7d7" transform="rotate(5 143.1 296.2)"/>
<ellipse cx="119.7" cy="300.2" rx="20.0" ry="6.7" fill="#d7d7d7"/>
<polygon points="313.2,266.8 326.5,246.8 359.9,243.5 373.2,263.5 369.9,293.5 326.5,317.5 226.5,317.5 239.8,293.5 293.2,293.5" fill="#b7b7b7"/>
<ellipse cx="283.2" cy="280.2" rx="37.4" ry="16.7" fill="#d7d7d7"/>
<ellipse cx="326.5" cy="273.5" rx="13.3" ry="13.3" fill="#d7d7d7"/>
<ellipse cx="226.5" cy="305.2" rx="133.4" ry="6.0" fill="#c7c7c7"/>
<polygon points="259.8,263.5 293.2,261.8 308.2,273.5 293.2,288.5 269.8,286.9 258.2,276.8" fill="#ffffff"/>
<ellipse cx="246.5" cy="308.5" rx="13.3" ry="5.0" fill="#ffffff"/>
<ellipse cx="266.5" cy="295.2" rx="6.7" ry="3.3" fill="#585858"/>
</g>
<use href="#land"/>
</g>
<use href="#ol"/>
</g>
<text transform="translate(852.3 1672.3) scale(1.056 1)" font-size="21.5" text-anchor="middle">CESM2 piControl B-ORAS5-dsl</text>
<g transform="translate(577.3 1681.5)">
<g clip-path="url(#oc)">
<g filter="url(#bl)">
<rect x="-40" y="-40" width="630" height="416" fill="#484848"/>
<ellipse cx="50.4" cy="70.7" rx="7.3" ry="4.7" fill="#c7c7c7"/>
<ellipse cx="30.4" cy="88.4" rx="4.7" ry="6.0" fill="#b7b7b7"/>
<ellipse cx="326.5" cy="4.0" rx="71.7" ry="10.0" fill="#b7b7b7"/>
<ellipse cx="149.8" cy="25.0" rx="40.0" ry="8.3" fill="#686868" transform="rotate(-10 149.8 25.0)"/>
<polygon points="149.8,-13.3 403.2,-13.3 393.2,10.0 326.5,7.3 306.5,8.4 246.5,6.0 236.5,18.4 193.1,18.4 179.8,10.0" fill="#c7c7c7"/>
<ellipse cx="213.1" cy="13.4" rx="23.3" ry="9.3" fill="#d7d7d7"/>
<ellipse cx="273.2" cy="20.0" rx="26.7" ry="15.0" fill="#585858"/>
<ellipse cx="276.5" cy="26.7" rx="15.3" ry="9.3" fill="#282828"/>
<ellipse cx="276.5" cy="28.4" rx="8.7" ry="5.0" fill="#000000"/>
<ellipse cx="351.5" cy="54.0" rx="12.7" ry="7.3" fill="#a7a7a7"/>
<ellipse cx="373.2" cy="40.0" rx="13.3" ry="8.3" fill="#383838" transform="rotate(35 373.2 40.0)"/>
<ellipse cx="388.2" cy="51.7" rx="16.7" ry="4.7" fill="#282828" transform="rotate(42 388.2 51.7)"/>
<ellipse cx="449.9" cy="36.7" rx="13.3" ry="13.3" fill="#383838"/>
<ellipse cx="411.6" cy="36.7" rx="15.0" ry="30.0" fill="#b7b7b7" transform="rotate(-25 411.6 36.7)"/>
<ellipse cx="401.6" cy="23.4" rx="6.0" ry="11.7" fill="#d7d7d7" transform="rotate(-20 401.6 23.4)"/>
<ellipse cx="421.6" cy="58.4" rx="9.3" ry="9.3" fill="#d7d7d7"/>
<ellipse cx="419.9" cy="60.0" rx="3.3" ry="3.3" fill="#ffffff"/>
<ellipse cx="426.6" cy="96.7" rx="47.4" ry="27.3" fill="#383838"/>
<ellipse cx="419.9" cy="88.4" rx="37.4" ry="11.7" fill="#181818" transform="rotate(5 419.9 88.4)"/>
<ellipse cx="401.6" cy="86.7" rx="13.3" ry="6.7" fill="#000000"/>
<ellipse cx="468.3" cy="96.7" rx="6.7" ry="16.7" fill="#979797"/>
<ellipse cx="500.0" cy="81.7" rx="23.3" ry="7.3" fill="#b7b7b7" transform="rotate(12 500.0 81.7)"/>
<ellipse cx="361.6" cy="118.4" rx="10.7" ry="8.3" fill="#282828"/>
<ellipse cx="389.9" cy="136.8" rx="20.0" ry="10.0" fill="#383838" transform="rotate(15 389.9 136.8)"/>
<ellipse cx="453.3" cy="146.8" rx="37.4" ry="7.3" fill="#878787" transform="rotate(10 453.3 146.8)"/>
<ellipse cx="470.0" cy="133.4" rx="8.3" ry="8.3" fill="#979797"/>
<ellipse cx="508.3" cy="180.1" rx="13.3" ry="26.7" fill="#a7a7a7" transform="rotate(5 508.3 180.1)"/>
<ellipse cx="483.3" cy="215.1" rx="20.0" ry="26.7" fill="#585858"/>
<ellipse cx="486.6" cy="186.8" rx="30.0" ry="4.7" fill="#787878" transform="rotate(15 486.6 186.8)"/>
<ellipse cx="508.3" cy="220.1" rx="6.7" ry="20.0" fill="#878787"/>
<ellipse cx="423.3" cy="246.8" rx="20.0" ry="16.7" fill="#383838"/>
<polygon points="376.6,286.9 413.3,273.5 453.3,256.8 493.3,243.5 526.7,243.5 530.7,317.5 356.6,317.5" fill="#b7b7b7"/>
<ellipse cx="436.6" cy="296.9" rx="54.0" ry="7.3" fill="#c7c7c7" transform="rotate(-10 436.6 296.9)"/>
<ellipse cx="366.6" cy="311.9" rx="11.7" ry="5.0" fill="#ffffff"/>
<ellipse cx="252.5" cy="35.0" rx="6.7" ry="15.0" fill="#b7b7b7"/>
<polygon points="189.8,63.4 213.1,51.7 259.8,46.7 276.5,56.7 259.8,70.1 226.5,76.7 199.8,80.1 189.8,76.7" fill="#a7a7a7"/>
<ellipse cx="249.8" cy="51.7" rx="6.7" ry="5.0" fill="#c7c7c7"/>
<ellipse cx="299.9" cy="70.1" rx="10.0" ry="13.3" fill="#a7a7a7" transform="rotate(-30 299.9 70.1)"/>
<ellipse cx="246.5" cy="100.1" rx="67.4" ry="16.7" fill="#383838"/>
<ellipse cx="179.8" cy="103.4" rx="20.0" ry="8.3" fill="#282828"/>
<ellipse cx="184.8" cy="98.4" rx="7.3" ry="3.3" fill="#000000"/>
<ellipse cx="213.1" cy="131.8" rx="33.4" ry="3.3" fill="#787878"/>
<ellipse cx="259.8" cy="136.8" rx="84.1" ry="5.0" fill="#979797" transform="rotate(2 259.8 136.8)"/>
<ellipse cx="319.9" cy="138.4" rx="40.7" ry="6.7" fill="#a7a7a7" transform="rotate(5 319.9 138.4)"/>
<ellipse cx="358.2" cy="148.4" rx="26.7" ry="11.7" fill="#979797"/>
<ellipse cx="306.5" cy="166.8" rx="84.1" ry="15.0" fill="#a7a7a7" transform="rotate(3 306.5 166.8)"/>
<polygon points="276.5,161.8 309.9,155.1 359.9,155.1 383.9,162.8 383.9,175.1 343.2,179.5 293.2,177.5" fill="#c7c7c7"/>
<ellipse cx="286.5" cy="186.8" rx="37.4" ry="3.3" fill="#878787" transform="rotate(5 286.5 186.8)"/>
<ellipse cx="346.5" cy="201.8" rx="37.4" ry="3.3" fill="#686868" transform="rotate(10 346.5 201.8)"/>
<polygon points="316.5,220.1 346.5,210.1 383.2,196.8 393.2,213.5 383.2,240.2 359.9,253.5 339.9,246.8 323.2,233.5" fill="#a7a7a7"/>
<ellipse cx="219.8" cy="228.5" rx="23.3" ry="4.7" fill="#979797" transform="rotate(-5 219.8 228.5)"/>
<ellipse cx="246.5" cy="213.5" rx="57.4" ry="10.0" fill="#383838" transform="rotate(5 246.5 213.5)"/>
<ellipse cx="279.8" cy="243.5" rx="33.4" ry="13.3" fill="#383838"/>
<polygon points="18.0,180.1 29.7,153.4 46.4,130.1 59.7,116.7 66.4,130.1 59.7,153.4 79.7,160.1 103.1,173.4 126.4,186.8 123.1,200.1 86.4,203.5 59.7,208.5 26.4,210.1 18.0,200.1" fill="#b7b7b7"/>
<polygon points="29.7,183.5 49.7,176.8 79.7,190.1 119.7,193.5 93.1,201.8 59.7,205.1 36.4,198.5" fill="#d7d7d7"/>
<ellipse cx="89.7" cy="165.1" rx="16.7" ry="8.3" fill="#979797"/>
<ellipse cx="86.4" cy="223.5" rx="57.4" ry="11.7" fill="#383838"/>
<ellipse cx="119.7" cy="256.8" rx="80.7" ry="11.7" fill="#979797" transform="rotate(8 119.7 256.8)"/>
<ellipse cx="139.8" cy="266.8" rx="50.7" ry="10.0" fill="#c7c7c7" transform="rotate(10 139.8 266.8)"/>
<ellipse cx="159.8" cy="290.2" rx="84.1" ry="11.7" fill="#b7b7b7" transform="rotate(5 159.8 290.2)"/>
<ellipse cx="143.1" cy="296.2" rx="50.0" ry="4.3" fill="#d7d7d7" transform="rotate(5 143.1 296.2)"/>
<ellipse cx="113.1" cy="300.2" rx="20.0" ry="6.7" fill="#d7d7d7"/>
<polygon points="313.2,266.8 326.5,246.8 359.9,243.5 373.2,263.5 369.9,293.5 326.5,317.5 226.5,317.5 239.8,293.5 293.2,293.5" fill="#b7b7b7"/>
<ellipse cx="283.2" cy="280.2" rx="37.4" ry="16.7" fill="#d7d7d7"/>
<ellipse cx="326.5" cy="273.5" rx="13.3" ry="13.3" fill="#d7d7d7"/>
<ellipse cx="226.5" cy="305.2" rx="133.4" ry="6.0" fill="#c7c7c7"/>
<polygon points="259.8,263.5 293.2,261.8 308.2,273.5 293.2,288.5 269.8,286.9 258.2,276.8" fill="#ffffff"/>
<ellipse cx="246.5" cy="308.5" rx="13.3" ry="5.0" fill="#ffffff"/>
<ellipse cx="266.5" cy="295.2" rx="6.7" ry="3.3" fill="#585858"/>
</g>
<use href="#land"/>
</g>
<use href="#ol"/>
</g>
<text transform="translate(1413.3 1672.3) scale(1.056 1)" font-size="21.5" text-anchor="middle">CESM2 piControl A-ORAS5-dsl</text>
<g transform="translate(1138.3 1681.5)">
<g clip-path="url(#oc)">
<g filter="url(#bl)">
<rect x="-40" y="-40" width="630" height="416" fill="#484848"/>
<ellipse cx="50.4" cy="70.7" rx="7.3" ry="4.7" fill="#c7c7c7"/>
<ellipse cx="30.4" cy="88.4" rx="4.7" ry="6.0" fill="#b7b7b7"/>
<ellipse cx="326.5" cy="4.0" rx="71.7" ry="10.0" fill="#b7b7b7"/>
<ellipse cx="149.8" cy="25.0" rx="40.0" ry="8.3" fill="#686868" transform="rotate(-10 149.8 25.0)"/>
<polygon points="149.8,-13.3 403.2,-13.3 393.2,10.7 326.5,8.7 299.9,10.0 253.2,10.0 243.2,21.7 193.1,21.7 179.8,10.0" fill="#d7d7d7"/>
<ellipse cx="214.8" cy="13.4" rx="14.0" ry="5.3" fill="#ffffff"/>
<ellipse cx="384.9" cy="1.7" rx="10.0" ry="3.3" fill="#ffffff"/>
<ellipse cx="276.5" cy="25.0" rx="20.0" ry="10.7" fill="#585858"/>
<ellipse cx="278.2" cy="26.7" rx="15.0" ry="8.7" fill="#282828"/>
<ellipse cx="278.2" cy="27.7" rx="9.3" ry="5.0" fill="#181818"/>
<ellipse cx="351.5" cy="54.0" rx="12.7" ry="7.3" fill="#878787"/>
<ellipse cx="373.2" cy="40.0" rx="13.3" ry="8.3" fill="#383838" transform="rotate(35 373.2 40.0)"/>
<ellipse cx="388.2" cy="51.7" rx="16.7" ry="4.7" fill="#181818" transform="rotate(42 388.2 51.7)"/>
<ellipse cx="439.9" cy="36.7" rx="20.0" ry="20.0" fill="#383838" transform="rotate(30 439.9 36.7)"/>
<ellipse cx="404.9" cy="26.7" rx="6.7" ry="20.0" fill="#b7b7b7" transform="rotate(-25 404.9 26.7)"/>
<ellipse cx="401.6" cy="21.7" rx="4.0" ry="10.0" fill="#d7d7d7" transform="rotate(-20 401.6 21.7)"/>
<ellipse cx="419.9" cy="58.4" rx="8.3" ry="9.3" fill="#d7d7d7"/>
<ellipse cx="426.6" cy="96.7" rx="47.4" ry="27.3" fill="#383838"/>
<ellipse cx="426.6" cy="93.4" rx="40.7" ry="15.0" fill="#282828" transform="rotate(5 426.6 93.4)"/>
<ellipse cx="398.2" cy="81.7" rx="10.0" ry="4.7" fill="#000000"/>
<ellipse cx="443.3" cy="95.1" rx="11.7" ry="5.0" fill="#181818"/>
<ellipse cx="468.3" cy="96.7" rx="6.7" ry="16.7" fill="#979797"/>
<ellipse cx="500.0" cy="81.7" rx="23.3" ry="7.3" fill="#b7b7b7" transform="rotate(12 500.0 81.7)"/>
<ellipse cx="361.6" cy="118.4" rx="10.7" ry="8.3" fill="#282828"/>
<ellipse cx="389.9" cy="136.8" rx="20.0" ry="10.0" fill="#383838" transform="rotate(15 389.9 136.8)"/>
<ellipse cx="453.3" cy="146.8" rx="37.4" ry="6.0" fill="#878787" transform="rotate(10 453.3 146.8)"/>
<ellipse cx="470.0" cy="131.8" rx="8.3" ry="10.0" fill="#a7a7a7"/>
<ellipse cx="508.3" cy="176.8" rx="13.3" ry="26.7" fill="#a7a7a7" transform="rotate(5 508.3 176.8)"/>
<ellipse cx="483.3" cy="215.1" rx="20.0" ry="26.7" fill="#585858"/>
<ellipse cx="486.6" cy="186.8" rx="30.0" ry="4.7" fill="#787878" transform="rotate(15 486.6 186.8)"/>
<ellipse cx="508.3" cy="220.1" rx="6.7" ry="20.0" fill="#878787"/>
<ellipse cx="423.3" cy="246.8" rx="20.0" ry="16.7" fill="#383838"/>
<polygon points="376.6,286.9 413.3,273.5 453.3,256.8 493.3,243.5 526.7,243.5 530.7,317.5 356.6,317.5" fill="#b7b7b7"/>
<ellipse cx="436.6" cy="290.2" rx="57.4" ry="8.0" fill="#c7c7c7" transform="rotate(-15 436.6 290.2)"/>
<ellipse cx="369.9" cy="308.5" rx="13.3" ry="7.3" fill="#d7d7d7"/>
<ellipse cx="252.5" cy="35.0" rx="6.7" ry="15.0" fill="#b7b7b7"/>
<polygon points="189.8,63.4 213.1,51.7 259.8,46.7 276.5,56.7 259.8,70.1 226.5,76.7 199.8,80.1 189.8,76.7" fill="#b7b7b7"/>
<ellipse cx="249.8" cy="55.0" rx="10.0" ry="6.7" fill="#c7c7c7"/>
<ellipse cx="256.5" cy="76.7" rx="57.4" ry="4.7" fill="#a7a7a7" transform="rotate(3 256.5 76.7)"/>
<ellipse cx="299.9" cy="70.1" rx="10.0" ry="13.3" fill="#a7a7a7" transform="rotate(-30 299.9 70.1)"/>
<ellipse cx="246.5" cy="101.7" rx="67.4" ry="13.3" fill="#383838"/>
<ellipse cx="179.8" cy="103.4" rx="20.0" ry="8.3" fill="#282828"/>
<ellipse cx="184.8" cy="98.4" rx="7.3" ry="3.3" fill="#000000"/>
<ellipse cx="259.8" cy="138.4" rx="90.7" ry="6.0" fill="#979797" transform="rotate(2 259.8 138.4)"/>
<ellipse cx="299.9" cy="140.1" rx="57.4" ry="3.3" fill="#a7a7a7" transform="rotate(3 299.9 140.1)"/>
<ellipse cx="358.2" cy="148.4" rx="26.7" ry="11.7" fill="#979797"/>
<ellipse cx="306.5" cy="168.4" rx="84.1" ry="16.0" fill="#a7a7a7" transform="rotate(3 306.5 168.4)"/>
<polygon points="249.8,165.1 293.2,156.1 359.9,155.1 383.9,162.8 383.9,175.1 343.2,179.5 293.2,178.5 259.8,173.4" fill="#c7c7c7"/>
<ellipse cx="276.5" cy="189.5" rx="47.4" ry="3.3" fill="#878787" transform="rotate(5 276.5 189.5)"/>
<ellipse cx="346.5" cy="201.8" rx="37.4" ry="3.3" fill="#686868" transform="rotate(10 346.5 201.8)"/>
<polygon points="309.9,226.8 339.9,210.1 383.2,196.8 393.2,213.5 383.2,243.5 366.6,263.5 339.9,263.5 313.2,246.8" fill="#a7a7a7"/>
<ellipse cx="226.5" cy="225.1" rx="26.7" ry="4.7" fill="#979797" transform="rotate(-5 226.5 225.1)"/>
<ellipse cx="239.8" cy="210.1" rx="50.7" ry="8.3" fill="#383838" transform="rotate(5 239.8 210.1)"/>
<polygon points="18.0,180.1 29.7,153.4 49.7,140.1 66.4,153.4 79.7,166.8 103.1,176.8 133.1,186.8 126.4,196.8 93.1,200.1 59.7,206.8 26.4,210.1 18.0,200.1" fill="#979797"/>
<ellipse cx="36.4" cy="176.8" rx="16.7" ry="20.0" fill="#a7a7a7"/>
<ellipse cx="93.1" cy="190.1" rx="30.0" ry="8.3" fill="#a7a7a7" transform="rotate(10 93.1 190.1)"/>
<ellipse cx="66.4" cy="198.5" rx="16.7" ry="3.3" fill="#c7c7c7"/>
<ellipse cx="83.1" cy="175.1" rx="20.0" ry="5.0" fill="#787878"/>
<ellipse cx="86.4" cy="223.5" rx="57.4" ry="11.7" fill="#383838"/>
<ellipse cx="126.4" cy="275.2" rx="90.1" ry="20.7" fill="#a7a7a7" transform="rotate(8 126.4 275.2)"/>
<ellipse cx="119.7" cy="256.8" rx="80.7" ry="11.7" fill="#979797" transform="rotate(8 119.7 256.8)"/>
<ellipse cx="146.4" cy="260.2" rx="50.7" ry="8.3" fill="#c7c7c7" transform="rotate(8 146.4 260.2)"/>
<ellipse cx="159.8" cy="290.2" rx="84.1" ry="11.7" fill="#b7b7b7" transform="rotate(5 159.8 290.2)"/>
<ellipse cx="143.1" cy="296.2" rx="50.0" ry="4.3" fill="#d7d7d7" transform="rotate(5 143.1 296.2)"/>
<ellipse cx="103.1" cy="300.2" rx="16.7" ry="6.7" fill="#d7d7d7"/>
<polygon points="313.2,266.8 326.5,253.5 359.9,243.5 373.2,263.5 369.9,293.5 326.5,317.5 226.5,317.5 239.8,293.5 293.2,293.5" fill="#b7b7b7"/>
<ellipse cx="283.2" cy="280.2" rx="37.4" ry="16.7" fill="#d7d7d7"/>
<ellipse cx="326.5" cy="273.5" rx="13.3" ry="13.3" fill="#d7d7d7"/>
<ellipse cx="363.2" cy="263.5" rx="10.0" ry="10.0" fill="#d7d7d7"/>
<ellipse cx="226.5" cy="305.2" rx="133.4" ry="6.0" fill="#c7c7c7"/>
<polygon points="259.8,263.5 293.2,261.8 308.2,273.5 293.2,288.5 269.8,286.9 258.2,276.8" fill="#ffffff"/>
<ellipse cx="246.5" cy="308.5" rx="13.3" ry="5.0" fill="#ffffff"/>
</g>
<use href="#land"/>
</g>
<use href="#ol"/>
</g>
<rect x="126.00" y="2093.5" width="90.74" height="33.0" fill="#7f1fee" stroke="#999" stroke-width="0.5"/>
<rect x="216.74" y="2093.5" width="90.74" height="33.0" fill="#1a00ff" stroke="#999" stroke-width="0.5"/>
<rect x="307.48" y="2093.5" width="90.74" height="33.0" fill="#2b44ea" stroke="#999" stroke-width="0.5"/>
<rect x="398.22" y="2093.5" width="90.74" height="33.0" fill="#3273ea" stroke="#999" stroke-width="0.5"/>
<rect x="488.96" y="2093.5" width="90.74" height="33.0" fill="#1b97ff" stroke="#999" stroke-width="0.5"/>
<rect x="579.70" y="2093.5" width="90.74" height="33.0" fill="#00bfff" stroke="#999" stroke-width="0.5"/>
<rect x="670.44" y="2093.5" width="90.74" height="33.0" fill="#73c6f1" stroke="#999" stroke-width="0.5"/>
<rect x="761.18" y="2093.5" width="90.74" height="33.0" fill="#b0dff3" stroke="#999" stroke-width="0.5"/>
<rect x="851.92" y="2093.5" width="90.74" height="33.0" fill="#fff78f" stroke="#999" stroke-width="0.5"/>
<rect x="942.66" y="2093.5" width="90.74" height="33.0" fill="#ffd528" stroke="#999" stroke-width="0.5"/>
<rect x="1033.40" y="2093.5" width="90.74" height="33.0" fill="#ffa800" stroke="#999" stroke-width="0.5"/>
<rect x="1124.14" y="2093.5" width="90.74" height="33.0" fill="#ff7500" stroke="#999" stroke-width="0.5"/>
<rect x="1214.88" y="2093.5" width="90.74" height="33.0" fill="#ff2d00" stroke="#999" stroke-width="0.5"/>
<rect x="1305.62" y="2093.5" width="90.74" height="33.0" fill="#e80000" stroke="#999" stroke-width="0.5"/>
<rect x="1396.36" y="2093.5" width="90.74" height="33.0" fill="#d01c1c" stroke="#999" stroke-width="0.5"/>
<rect x="1487.10" y="2093.5" width="90.74" height="33.0" fill="#ffb0b0" stroke="#999" stroke-width="0.5"/>
<text transform="translate(213.7 2165.3) scale(1.080 1)" font-size="36" text-anchor="middle">-20</text>
<text transform="translate(304.5 2165.3) scale(1.080 1)" font-size="36" text-anchor="middle">-16</text>
<text transform="translate(395.2 2165.3) scale(1.080 1)" font-size="36" text-anchor="middle">-12</text>
<text transform="translate(486.0 2165.3) scale(1.080 1)" font-size="36" text-anchor="middle">-8</text>
<text transform="translate(576.7 2165.3) scale(1.080 1)" font-size="36" text-anchor="middle">-4</text>
<text transform="translate(667.4 2165.3) scale(1.080 1)" font-size="36" text-anchor="middle">-2</text>
<text transform="translate(758.2 2165.3) scale(1.080 1)" font-size="36" text-anchor="middle">-1</text>
<text transform="translate(851.9 2165.3) scale(1.080 1)" font-size="36" text-anchor="middle">0</text>
<text transform="translate(942.7 2165.3) scale(1.080 1)" font-size="36" text-anchor="middle">1</text>
<text transform="translate(1033.4 2165.3) scale(1.080 1)" font-size="36" text-anchor="middle">2</text>
<text transform="translate(1124.1 2165.3) scale(1.080 1)" font-size="36" text-anchor="middle">4</text>
<text transform="translate(1214.9 2165.3) scale(1.080 1)" font-size="36" text-anchor="middle">8</text>
<text transform="translate(1305.6 2165.3) scale(1.080 1)" font-size="36" text-anchor="middle">12</text>
<text transform="translate(1396.4 2165.3) scale(1.080 1)" font-size="36" text-anchor="middle">16</text>
<text transform="translate(1487.1 2165.3) scale(1.080 1)" font-size="36" text-anchor="middle">20</text>
</svg></body></html>
